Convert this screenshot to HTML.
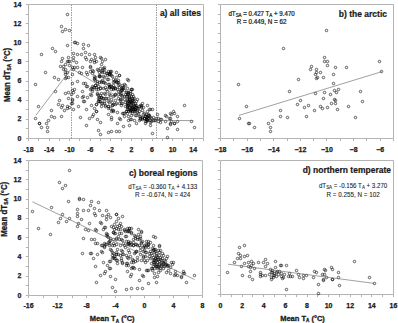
<!DOCTYPE html>
<html><head><meta charset="utf-8"><style>html,body{margin:0;padding:0;background:#fff;width:398px;height:323px;overflow:hidden}svg{display:block}</style></head>
<body><svg width="398" height="323" viewBox="0 0 398 323">
<style>
text{font-family:"Liberation Sans",sans-serif;fill:#1a1a1a}
.tl{font-size:7px;font-weight:bold;text-anchor:middle;stroke:#1a1a1a;stroke-width:0.25px}
.yl{font-size:7px;font-weight:bold;text-anchor:end;stroke:#1a1a1a;stroke-width:0.25px}
.ti{font-size:8.5px;font-weight:bold;text-anchor:end;stroke:#1a1a1a;stroke-width:0.2px}
.eq{font-size:6.3px;text-anchor:middle;stroke:#1a1a1a;stroke-width:0.22px}
.ax{font-size:8px;font-weight:bold}
</style>
<rect width="398" height="323" fill="#fff"/>
<path d="M28.5 4.5H203.5V138.5" fill="none" stroke="#b4b4b4" stroke-width="1"/>
<path d="M28.5 4.5V138.5H203.5" fill="none" stroke="#b4b4b4" stroke-width="1"/>
<path d="M25.90 138.50H28.5M25.90 128.50H28.5M25.90 119.50H28.5M25.90 109.50H28.5M25.90 100.50H28.5M25.90 90.50H28.5M25.90 81.50H28.5M25.90 71.50H28.5M25.90 61.50H28.5M25.90 52.50H28.5M25.90 42.50H28.5M25.90 33.50H28.5M25.90 23.50H28.5M25.90 14.50H28.5M25.90 4.50H28.5M28.50 138.5V141.10M38.50 138.5V141.10M49.50 138.5V141.10M59.50 138.5V141.10M69.50 138.5V141.10M79.50 138.5V141.10M90.50 138.5V141.10M100.50 138.5V141.10M110.50 138.5V141.10M121.50 138.5V141.10M131.50 138.5V141.10M141.50 138.5V141.10M152.50 138.5V141.10M162.50 138.5V141.10M172.50 138.5V141.10M182.50 138.5V141.10M193.50 138.5V141.10M203.50 138.5V141.10" fill="none" stroke="#b4b4b4" stroke-width="1"/>
<text x="28.50" y="151.8" class="tl">-18</text>
<text x="49.09" y="151.8" class="tl">-14</text>
<text x="69.68" y="151.8" class="tl">-10</text>
<text x="90.26" y="151.8" class="tl">-6</text>
<text x="110.85" y="151.8" class="tl">-2</text>
<text x="131.44" y="151.8" class="tl">2</text>
<text x="152.03" y="151.8" class="tl">6</text>
<text x="172.62" y="151.8" class="tl">10</text>
<text x="193.21" y="151.8" class="tl">14</text>
<text x="21.3" y="140.60" class="yl">0</text>
<text x="21.3" y="121.46" class="yl">2</text>
<text x="21.3" y="102.31" class="yl">4</text>
<text x="21.3" y="83.17" class="yl">6</text>
<text x="21.3" y="64.03" class="yl">8</text>
<text x="21.3" y="44.89" class="yl">10</text>
<text x="21.3" y="25.74" class="yl">12</text>
<text x="21.3" y="6.60" class="yl">14</text>
<path d="M220.5 4.5H393.5V138.5" fill="none" stroke="#b4b4b4" stroke-width="1"/>
<path d="M220.5 4.5V138.5H393.5" fill="none" stroke="#b4b4b4" stroke-width="1"/>
<path d="M217.90 138.50H220.5M217.90 128.50H220.5M217.90 119.50H220.5M217.90 109.50H220.5M217.90 100.50H220.5M217.90 90.50H220.5M217.90 81.50H220.5M217.90 71.50H220.5M217.90 61.50H220.5M217.90 52.50H220.5M217.90 42.50H220.5M217.90 33.50H220.5M217.90 23.50H220.5M217.90 14.50H220.5M217.90 4.50H220.5M220.50 138.5V141.10M233.50 138.5V141.10M247.50 138.5V141.10M260.50 138.5V141.10M273.50 138.5V141.10M287.50 138.5V141.10M300.50 138.5V141.10M313.50 138.5V141.10M326.50 138.5V141.10M340.50 138.5V141.10M353.50 138.5V141.10M366.50 138.5V141.10M380.50 138.5V141.10M393.50 138.5V141.10" fill="none" stroke="#b4b4b4" stroke-width="1"/>
<text x="220.50" y="151.8" class="tl">−18</text>
<text x="247.12" y="151.8" class="tl">−16</text>
<text x="273.73" y="151.8" class="tl">−14</text>
<text x="300.35" y="151.8" class="tl">−12</text>
<text x="326.96" y="151.8" class="tl">−10</text>
<text x="353.58" y="151.8" class="tl">−8</text>
<text x="380.19" y="151.8" class="tl">−6</text>
<path d="M28.5 160.5H202.5V295.5" fill="none" stroke="#b4b4b4" stroke-width="1"/>
<path d="M28.5 160.5V295.5H202.5" fill="none" stroke="#b4b4b4" stroke-width="1"/>
<path d="M25.90 295.50H28.5M25.90 285.50H28.5M25.90 276.50H28.5M25.90 266.50H28.5M25.90 256.50H28.5M25.90 247.50H28.5M25.90 237.50H28.5M25.90 228.50H28.5M25.90 218.50H28.5M25.90 208.50H28.5M25.90 199.50H28.5M25.90 189.50H28.5M25.90 179.50H28.5M25.90 170.50H28.5M25.90 160.50H28.5M28.50 295.5V298.10M43.50 295.5V298.10M57.50 295.5V298.10M72.50 295.5V298.10M86.50 295.5V298.10M101.50 295.5V298.10M115.50 295.5V298.10M130.50 295.5V298.10M144.50 295.5V298.10M159.50 295.5V298.10M173.50 295.5V298.10M188.50 295.5V298.10M202.50 295.5V298.10" fill="none" stroke="#b4b4b4" stroke-width="1"/>
<text x="28.50" y="308" class="tl">-16</text>
<text x="57.50" y="308" class="tl">-12</text>
<text x="86.50" y="308" class="tl">-8</text>
<text x="115.50" y="308" class="tl">-4</text>
<text x="144.50" y="308" class="tl">0</text>
<text x="173.50" y="308" class="tl">4</text>
<text x="202.50" y="308" class="tl">8</text>
<text x="21.3" y="297.60" class="yl">0</text>
<text x="21.3" y="278.31" class="yl">2</text>
<text x="21.3" y="259.03" class="yl">4</text>
<text x="21.3" y="239.74" class="yl">6</text>
<text x="21.3" y="220.46" class="yl">8</text>
<text x="21.3" y="201.17" class="yl">10</text>
<text x="21.3" y="181.89" class="yl">12</text>
<text x="21.3" y="162.60" class="yl">14</text>
<path d="M220.5 160.5H393.5V294.5" fill="none" stroke="#b4b4b4" stroke-width="1"/>
<path d="M220.5 160.5V294.5H393.5" fill="none" stroke="#b4b4b4" stroke-width="1"/>
<path d="M217.90 294.50H220.5M217.90 284.50H220.5M217.90 275.50H220.5M217.90 265.50H220.5M217.90 256.50H220.5M217.90 246.50H220.5M217.90 237.50H220.5M217.90 227.50H220.5M217.90 217.50H220.5M217.90 208.50H220.5M217.90 198.50H220.5M217.90 189.50H220.5M217.90 179.50H220.5M217.90 170.50H220.5M217.90 160.50H220.5M220.50 294.5V297.10M231.50 294.5V297.10M242.50 294.5V297.10M252.50 294.5V297.10M263.50 294.5V297.10M274.50 294.5V297.10M285.50 294.5V297.10M296.50 294.5V297.10M307.50 294.5V297.10M317.50 294.5V297.10M328.50 294.5V297.10M339.50 294.5V297.10M350.50 294.5V297.10M361.50 294.5V297.10M371.50 294.5V297.10M382.50 294.5V297.10M393.50 294.5V297.10" fill="none" stroke="#b4b4b4" stroke-width="1"/>
<text x="220.50" y="307.5" class="tl">0</text>
<text x="242.12" y="307.5" class="tl">2</text>
<text x="263.75" y="307.5" class="tl">4</text>
<text x="285.38" y="307.5" class="tl">6</text>
<text x="307.00" y="307.5" class="tl">8</text>
<text x="328.62" y="307.5" class="tl">10</text>
<text x="350.25" y="307.5" class="tl">12</text>
<text x="371.88" y="307.5" class="tl">14</text>
<text x="393.50" y="307.5" class="tl">16</text>
<path d="M71.5 4.5V138.5M156.5 4.5V138.5" stroke="#9a9a9a" stroke-width="1" stroke-dasharray="1.5 1"/>
<path d="M37.25 106.50a1.25 1.25 0 1 0 2.5 0a1.25 1.25 0 1 0 -2.5 0M34.25 118.50a1.25 1.25 0 1 0 2.5 0a1.25 1.25 0 1 0 -2.5 0M38.25 123.50a1.25 1.25 0 1 0 2.5 0a1.25 1.25 0 1 0 -2.5 0M38.25 123.50a1.25 1.25 0 1 0 2.5 0a1.25 1.25 0 1 0 -2.5 0M40.25 127.50a1.25 1.25 0 1 0 2.5 0a1.25 1.25 0 1 0 -2.5 0M45.25 123.50a1.25 1.25 0 1 0 2.5 0a1.25 1.25 0 1 0 -2.5 0M47.25 120.50a1.25 1.25 0 1 0 2.5 0a1.25 1.25 0 1 0 -2.5 0M46.25 127.50a1.25 1.25 0 1 0 2.5 0a1.25 1.25 0 1 0 -2.5 0M46.25 131.50a1.25 1.25 0 1 0 2.5 0a1.25 1.25 0 1 0 -2.5 0M34.25 84.50a1.25 1.25 0 1 0 2.5 0a1.25 1.25 0 1 0 -2.5 0M50.25 110.50a1.25 1.25 0 1 0 2.5 0a1.25 1.25 0 1 0 -2.5 0M50.25 116.50a1.25 1.25 0 1 0 2.5 0a1.25 1.25 0 1 0 -2.5 0M53.25 117.50a1.25 1.25 0 1 0 2.5 0a1.25 1.25 0 1 0 -2.5 0M60.25 116.50a1.25 1.25 0 1 0 2.5 0a1.25 1.25 0 1 0 -2.5 0M63.25 110.50a1.25 1.25 0 1 0 2.5 0a1.25 1.25 0 1 0 -2.5 0M60.25 107.50a1.25 1.25 0 1 0 2.5 0a1.25 1.25 0 1 0 -2.5 0M61.25 105.50a1.25 1.25 0 1 0 2.5 0a1.25 1.25 0 1 0 -2.5 0M66.25 106.50a1.25 1.25 0 1 0 2.5 0a1.25 1.25 0 1 0 -2.5 0M66.25 108.50a1.25 1.25 0 1 0 2.5 0a1.25 1.25 0 1 0 -2.5 0M68.25 107.50a1.25 1.25 0 1 0 2.5 0a1.25 1.25 0 1 0 -2.5 0M57.25 104.50a1.25 1.25 0 1 0 2.5 0a1.25 1.25 0 1 0 -2.5 0M54.25 91.50a1.25 1.25 0 1 0 2.5 0a1.25 1.25 0 1 0 -2.5 0M64.25 93.50a1.25 1.25 0 1 0 2.5 0a1.25 1.25 0 1 0 -2.5 0M67.25 92.50a1.25 1.25 0 1 0 2.5 0a1.25 1.25 0 1 0 -2.5 0M70.25 94.50a1.25 1.25 0 1 0 2.5 0a1.25 1.25 0 1 0 -2.5 0M71.25 90.50a1.25 1.25 0 1 0 2.5 0a1.25 1.25 0 1 0 -2.5 0M72.25 92.50a1.25 1.25 0 1 0 2.5 0a1.25 1.25 0 1 0 -2.5 0M73.25 89.50a1.25 1.25 0 1 0 2.5 0a1.25 1.25 0 1 0 -2.5 0M67.25 98.50a1.25 1.25 0 1 0 2.5 0a1.25 1.25 0 1 0 -2.5 0M58.25 100.50a1.25 1.25 0 1 0 2.5 0a1.25 1.25 0 1 0 -2.5 0M70.25 103.50a1.25 1.25 0 1 0 2.5 0a1.25 1.25 0 1 0 -2.5 0M71.25 99.50a1.25 1.25 0 1 0 2.5 0a1.25 1.25 0 1 0 -2.5 0M71.25 100.50a1.25 1.25 0 1 0 2.5 0a1.25 1.25 0 1 0 -2.5 0M71.25 103.50a1.25 1.25 0 1 0 2.5 0a1.25 1.25 0 1 0 -2.5 0M72.25 109.50a1.25 1.25 0 1 0 2.5 0a1.25 1.25 0 1 0 -2.5 0M67.25 57.50a1.25 1.25 0 1 0 2.5 0a1.25 1.25 0 1 0 -2.5 0M67.25 61.50a1.25 1.25 0 1 0 2.5 0a1.25 1.25 0 1 0 -2.5 0M68.25 61.50a1.25 1.25 0 1 0 2.5 0a1.25 1.25 0 1 0 -2.5 0M68.25 65.50a1.25 1.25 0 1 0 2.5 0a1.25 1.25 0 1 0 -2.5 0M71.25 67.50a1.25 1.25 0 1 0 2.5 0a1.25 1.25 0 1 0 -2.5 0M62.25 66.50a1.25 1.25 0 1 0 2.5 0a1.25 1.25 0 1 0 -2.5 0M62.25 69.50a1.25 1.25 0 1 0 2.5 0a1.25 1.25 0 1 0 -2.5 0M64.25 69.50a1.25 1.25 0 1 0 2.5 0a1.25 1.25 0 1 0 -2.5 0M64.25 72.50a1.25 1.25 0 1 0 2.5 0a1.25 1.25 0 1 0 -2.5 0M64.25 74.50a1.25 1.25 0 1 0 2.5 0a1.25 1.25 0 1 0 -2.5 0M66.25 72.50a1.25 1.25 0 1 0 2.5 0a1.25 1.25 0 1 0 -2.5 0M65.25 77.50a1.25 1.25 0 1 0 2.5 0a1.25 1.25 0 1 0 -2.5 0M64.25 78.50a1.25 1.25 0 1 0 2.5 0a1.25 1.25 0 1 0 -2.5 0M67.25 77.50a1.25 1.25 0 1 0 2.5 0a1.25 1.25 0 1 0 -2.5 0M71.25 74.50a1.25 1.25 0 1 0 2.5 0a1.25 1.25 0 1 0 -2.5 0M71.25 83.50a1.25 1.25 0 1 0 2.5 0a1.25 1.25 0 1 0 -2.5 0M57.25 79.50a1.25 1.25 0 1 0 2.5 0a1.25 1.25 0 1 0 -2.5 0M51.25 48.50a1.25 1.25 0 1 0 2.5 0a1.25 1.25 0 1 0 -2.5 0M68.25 30.50a1.25 1.25 0 1 0 2.5 0a1.25 1.25 0 1 0 -2.5 0M76.25 67.50a1.25 1.25 0 1 0 2.5 0a1.25 1.25 0 1 0 -2.5 0M89.25 61.50a1.25 1.25 0 1 0 2.5 0a1.25 1.25 0 1 0 -2.5 0M89.25 71.50a1.25 1.25 0 1 0 2.5 0a1.25 1.25 0 1 0 -2.5 0M81.25 91.50a1.25 1.25 0 1 0 2.5 0a1.25 1.25 0 1 0 -2.5 0M82.25 101.50a1.25 1.25 0 1 0 2.5 0a1.25 1.25 0 1 0 -2.5 0M77.25 106.50a1.25 1.25 0 1 0 2.5 0a1.25 1.25 0 1 0 -2.5 0M79.25 117.50a1.25 1.25 0 1 0 2.5 0a1.25 1.25 0 1 0 -2.5 0M66.25 14.50a1.25 1.25 0 1 0 2.5 0a1.25 1.25 0 1 0 -2.5 0M60.25 26.50a1.25 1.25 0 1 0 2.5 0a1.25 1.25 0 1 0 -2.5 0M64.25 29.50a1.25 1.25 0 1 0 2.5 0a1.25 1.25 0 1 0 -2.5 0M61.25 31.50a1.25 1.25 0 1 0 2.5 0a1.25 1.25 0 1 0 -2.5 0M66.25 45.50a1.25 1.25 0 1 0 2.5 0a1.25 1.25 0 1 0 -2.5 0M54.25 51.50a1.25 1.25 0 1 0 2.5 0a1.25 1.25 0 1 0 -2.5 0M40.25 54.50a1.25 1.25 0 1 0 2.5 0a1.25 1.25 0 1 0 -2.5 0M61.25 58.50a1.25 1.25 0 1 0 2.5 0a1.25 1.25 0 1 0 -2.5 0M60.25 61.50a1.25 1.25 0 1 0 2.5 0a1.25 1.25 0 1 0 -2.5 0M66.25 61.50a1.25 1.25 0 1 0 2.5 0a1.25 1.25 0 1 0 -2.5 0M64.25 64.50a1.25 1.25 0 1 0 2.5 0a1.25 1.25 0 1 0 -2.5 0M59.25 66.50a1.25 1.25 0 1 0 2.5 0a1.25 1.25 0 1 0 -2.5 0M44.25 72.50a1.25 1.25 0 1 0 2.5 0a1.25 1.25 0 1 0 -2.5 0M53.25 77.50a1.25 1.25 0 1 0 2.5 0a1.25 1.25 0 1 0 -2.5 0M73.25 42.50a1.25 1.25 0 1 0 2.5 0a1.25 1.25 0 1 0 -2.5 0M74.25 42.50a1.25 1.25 0 1 0 2.5 0a1.25 1.25 0 1 0 -2.5 0M76.25 43.50a1.25 1.25 0 1 0 2.5 0a1.25 1.25 0 1 0 -2.5 0M82.25 44.50a1.25 1.25 0 1 0 2.5 0a1.25 1.25 0 1 0 -2.5 0M87.25 45.50a1.25 1.25 0 1 0 2.5 0a1.25 1.25 0 1 0 -2.5 0M82.25 48.50a1.25 1.25 0 1 0 2.5 0a1.25 1.25 0 1 0 -2.5 0M84.25 52.50a1.25 1.25 0 1 0 2.5 0a1.25 1.25 0 1 0 -2.5 0M72.25 53.50a1.25 1.25 0 1 0 2.5 0a1.25 1.25 0 1 0 -2.5 0M76.25 54.50a1.25 1.25 0 1 0 2.5 0a1.25 1.25 0 1 0 -2.5 0M80.25 54.50a1.25 1.25 0 1 0 2.5 0a1.25 1.25 0 1 0 -2.5 0M88.25 54.50a1.25 1.25 0 1 0 2.5 0a1.25 1.25 0 1 0 -2.5 0M93.25 54.50a1.25 1.25 0 1 0 2.5 0a1.25 1.25 0 1 0 -2.5 0M72.25 57.50a1.25 1.25 0 1 0 2.5 0a1.25 1.25 0 1 0 -2.5 0M72.25 60.50a1.25 1.25 0 1 0 2.5 0a1.25 1.25 0 1 0 -2.5 0M84.25 57.50a1.25 1.25 0 1 0 2.5 0a1.25 1.25 0 1 0 -2.5 0M85.25 59.50a1.25 1.25 0 1 0 2.5 0a1.25 1.25 0 1 0 -2.5 0M90.25 59.50a1.25 1.25 0 1 0 2.5 0a1.25 1.25 0 1 0 -2.5 0M94.25 57.50a1.25 1.25 0 1 0 2.5 0a1.25 1.25 0 1 0 -2.5 0M93.25 60.50a1.25 1.25 0 1 0 2.5 0a1.25 1.25 0 1 0 -2.5 0M95.25 61.50a1.25 1.25 0 1 0 2.5 0a1.25 1.25 0 1 0 -2.5 0M93.25 62.50a1.25 1.25 0 1 0 2.5 0a1.25 1.25 0 1 0 -2.5 0M99.25 57.50a1.25 1.25 0 1 0 2.5 0a1.25 1.25 0 1 0 -2.5 0M100.25 58.50a1.25 1.25 0 1 0 2.5 0a1.25 1.25 0 1 0 -2.5 0M75.25 62.50a1.25 1.25 0 1 0 2.5 0a1.25 1.25 0 1 0 -2.5 0M100.25 64.50a1.25 1.25 0 1 0 2.5 0a1.25 1.25 0 1 0 -2.5 0M89.25 66.50a1.25 1.25 0 1 0 2.5 0a1.25 1.25 0 1 0 -2.5 0M89.25 67.50a1.25 1.25 0 1 0 2.5 0a1.25 1.25 0 1 0 -2.5 0M81.25 67.50a1.25 1.25 0 1 0 2.5 0a1.25 1.25 0 1 0 -2.5 0M73.25 67.50a1.25 1.25 0 1 0 2.5 0a1.25 1.25 0 1 0 -2.5 0M99.25 68.50a1.25 1.25 0 1 0 2.5 0a1.25 1.25 0 1 0 -2.5 0M72.25 69.50a1.25 1.25 0 1 0 2.5 0a1.25 1.25 0 1 0 -2.5 0M78.25 72.50a1.25 1.25 0 1 0 2.5 0a1.25 1.25 0 1 0 -2.5 0M80.25 73.50a1.25 1.25 0 1 0 2.5 0a1.25 1.25 0 1 0 -2.5 0M85.25 72.50a1.25 1.25 0 1 0 2.5 0a1.25 1.25 0 1 0 -2.5 0M86.25 74.50a1.25 1.25 0 1 0 2.5 0a1.25 1.25 0 1 0 -2.5 0M91.25 70.50a1.25 1.25 0 1 0 2.5 0a1.25 1.25 0 1 0 -2.5 0M92.25 71.50a1.25 1.25 0 1 0 2.5 0a1.25 1.25 0 1 0 -2.5 0M91.25 73.50a1.25 1.25 0 1 0 2.5 0a1.25 1.25 0 1 0 -2.5 0M96.25 69.50a1.25 1.25 0 1 0 2.5 0a1.25 1.25 0 1 0 -2.5 0M97.25 70.50a1.25 1.25 0 1 0 2.5 0a1.25 1.25 0 1 0 -2.5 0M100.25 71.50a1.25 1.25 0 1 0 2.5 0a1.25 1.25 0 1 0 -2.5 0M99.25 76.50a1.25 1.25 0 1 0 2.5 0a1.25 1.25 0 1 0 -2.5 0M93.25 76.50a1.25 1.25 0 1 0 2.5 0a1.25 1.25 0 1 0 -2.5 0M93.25 78.50a1.25 1.25 0 1 0 2.5 0a1.25 1.25 0 1 0 -2.5 0M94.25 80.50a1.25 1.25 0 1 0 2.5 0a1.25 1.25 0 1 0 -2.5 0M96.25 81.50a1.25 1.25 0 1 0 2.5 0a1.25 1.25 0 1 0 -2.5 0M76.25 81.50a1.25 1.25 0 1 0 2.5 0a1.25 1.25 0 1 0 -2.5 0M82.25 83.50a1.25 1.25 0 1 0 2.5 0a1.25 1.25 0 1 0 -2.5 0M84.25 83.50a1.25 1.25 0 1 0 2.5 0a1.25 1.25 0 1 0 -2.5 0M85.25 86.50a1.25 1.25 0 1 0 2.5 0a1.25 1.25 0 1 0 -2.5 0M86.25 86.50a1.25 1.25 0 1 0 2.5 0a1.25 1.25 0 1 0 -2.5 0M89.25 89.50a1.25 1.25 0 1 0 2.5 0a1.25 1.25 0 1 0 -2.5 0M91.25 89.50a1.25 1.25 0 1 0 2.5 0a1.25 1.25 0 1 0 -2.5 0M91.25 86.50a1.25 1.25 0 1 0 2.5 0a1.25 1.25 0 1 0 -2.5 0M92.25 87.50a1.25 1.25 0 1 0 2.5 0a1.25 1.25 0 1 0 -2.5 0M94.25 85.50a1.25 1.25 0 1 0 2.5 0a1.25 1.25 0 1 0 -2.5 0M95.25 87.50a1.25 1.25 0 1 0 2.5 0a1.25 1.25 0 1 0 -2.5 0M95.25 89.50a1.25 1.25 0 1 0 2.5 0a1.25 1.25 0 1 0 -2.5 0M97.25 86.50a1.25 1.25 0 1 0 2.5 0a1.25 1.25 0 1 0 -2.5 0M99.25 88.50a1.25 1.25 0 1 0 2.5 0a1.25 1.25 0 1 0 -2.5 0M96.25 93.50a1.25 1.25 0 1 0 2.5 0a1.25 1.25 0 1 0 -2.5 0M89.25 94.50a1.25 1.25 0 1 0 2.5 0a1.25 1.25 0 1 0 -2.5 0M76.25 96.50a1.25 1.25 0 1 0 2.5 0a1.25 1.25 0 1 0 -2.5 0M81.25 97.50a1.25 1.25 0 1 0 2.5 0a1.25 1.25 0 1 0 -2.5 0M82.25 96.50a1.25 1.25 0 1 0 2.5 0a1.25 1.25 0 1 0 -2.5 0M86.25 97.50a1.25 1.25 0 1 0 2.5 0a1.25 1.25 0 1 0 -2.5 0M83.25 101.50a1.25 1.25 0 1 0 2.5 0a1.25 1.25 0 1 0 -2.5 0M97.25 95.50a1.25 1.25 0 1 0 2.5 0a1.25 1.25 0 1 0 -2.5 0M98.25 97.50a1.25 1.25 0 1 0 2.5 0a1.25 1.25 0 1 0 -2.5 0M97.25 98.50a1.25 1.25 0 1 0 2.5 0a1.25 1.25 0 1 0 -2.5 0M98.25 99.50a1.25 1.25 0 1 0 2.5 0a1.25 1.25 0 1 0 -2.5 0M99.25 95.50a1.25 1.25 0 1 0 2.5 0a1.25 1.25 0 1 0 -2.5 0M100.25 97.50a1.25 1.25 0 1 0 2.5 0a1.25 1.25 0 1 0 -2.5 0M97.25 101.50a1.25 1.25 0 1 0 2.5 0a1.25 1.25 0 1 0 -2.5 0M96.25 83.50a1.25 1.25 0 1 0 2.5 0a1.25 1.25 0 1 0 -2.5 0M90.25 105.50a1.25 1.25 0 1 0 2.5 0a1.25 1.25 0 1 0 -2.5 0M95.25 104.50a1.25 1.25 0 1 0 2.5 0a1.25 1.25 0 1 0 -2.5 0M93.25 108.50a1.25 1.25 0 1 0 2.5 0a1.25 1.25 0 1 0 -2.5 0M95.25 111.50a1.25 1.25 0 1 0 2.5 0a1.25 1.25 0 1 0 -2.5 0M85.25 109.50a1.25 1.25 0 1 0 2.5 0a1.25 1.25 0 1 0 -2.5 0M92.25 114.50a1.25 1.25 0 1 0 2.5 0a1.25 1.25 0 1 0 -2.5 0M91.25 116.50a1.25 1.25 0 1 0 2.5 0a1.25 1.25 0 1 0 -2.5 0M88.25 118.50a1.25 1.25 0 1 0 2.5 0a1.25 1.25 0 1 0 -2.5 0M96.25 119.50a1.25 1.25 0 1 0 2.5 0a1.25 1.25 0 1 0 -2.5 0M85.25 125.50a1.25 1.25 0 1 0 2.5 0a1.25 1.25 0 1 0 -2.5 0M99.25 122.50a1.25 1.25 0 1 0 2.5 0a1.25 1.25 0 1 0 -2.5 0M97.25 130.50a1.25 1.25 0 1 0 2.5 0a1.25 1.25 0 1 0 -2.5 0M99.25 134.50a1.25 1.25 0 1 0 2.5 0a1.25 1.25 0 1 0 -2.5 0M99.25 101.50a1.25 1.25 0 1 0 2.5 0a1.25 1.25 0 1 0 -2.5 0M100.25 103.50a1.25 1.25 0 1 0 2.5 0a1.25 1.25 0 1 0 -2.5 0M100.25 106.50a1.25 1.25 0 1 0 2.5 0a1.25 1.25 0 1 0 -2.5 0M104.25 59.50a1.25 1.25 0 1 0 2.5 0a1.25 1.25 0 1 0 -2.5 0M101.25 61.50a1.25 1.25 0 1 0 2.5 0a1.25 1.25 0 1 0 -2.5 0M103.25 67.50a1.25 1.25 0 1 0 2.5 0a1.25 1.25 0 1 0 -2.5 0M102.25 68.50a1.25 1.25 0 1 0 2.5 0a1.25 1.25 0 1 0 -2.5 0M103.25 69.50a1.25 1.25 0 1 0 2.5 0a1.25 1.25 0 1 0 -2.5 0M101.25 70.50a1.25 1.25 0 1 0 2.5 0a1.25 1.25 0 1 0 -2.5 0M101.25 72.50a1.25 1.25 0 1 0 2.5 0a1.25 1.25 0 1 0 -2.5 0M103.25 72.50a1.25 1.25 0 1 0 2.5 0a1.25 1.25 0 1 0 -2.5 0M98.25 72.50a1.25 1.25 0 1 0 2.5 0a1.25 1.25 0 1 0 -2.5 0M102.25 76.50a1.25 1.25 0 1 0 2.5 0a1.25 1.25 0 1 0 -2.5 0M103.25 77.50a1.25 1.25 0 1 0 2.5 0a1.25 1.25 0 1 0 -2.5 0M105.25 73.50a1.25 1.25 0 1 0 2.5 0a1.25 1.25 0 1 0 -2.5 0M106.25 75.50a1.25 1.25 0 1 0 2.5 0a1.25 1.25 0 1 0 -2.5 0M106.25 73.50a1.25 1.25 0 1 0 2.5 0a1.25 1.25 0 1 0 -2.5 0M107.25 71.50a1.25 1.25 0 1 0 2.5 0a1.25 1.25 0 1 0 -2.5 0M109.25 71.50a1.25 1.25 0 1 0 2.5 0a1.25 1.25 0 1 0 -2.5 0M110.25 71.50a1.25 1.25 0 1 0 2.5 0a1.25 1.25 0 1 0 -2.5 0M108.25 73.50a1.25 1.25 0 1 0 2.5 0a1.25 1.25 0 1 0 -2.5 0M109.25 74.50a1.25 1.25 0 1 0 2.5 0a1.25 1.25 0 1 0 -2.5 0M110.25 75.50a1.25 1.25 0 1 0 2.5 0a1.25 1.25 0 1 0 -2.5 0M111.25 76.50a1.25 1.25 0 1 0 2.5 0a1.25 1.25 0 1 0 -2.5 0M115.25 72.50a1.25 1.25 0 1 0 2.5 0a1.25 1.25 0 1 0 -2.5 0M118.25 75.50a1.25 1.25 0 1 0 2.5 0a1.25 1.25 0 1 0 -2.5 0M115.25 77.50a1.25 1.25 0 1 0 2.5 0a1.25 1.25 0 1 0 -2.5 0M112.25 79.50a1.25 1.25 0 1 0 2.5 0a1.25 1.25 0 1 0 -2.5 0M114.25 80.50a1.25 1.25 0 1 0 2.5 0a1.25 1.25 0 1 0 -2.5 0M115.25 81.50a1.25 1.25 0 1 0 2.5 0a1.25 1.25 0 1 0 -2.5 0M117.25 80.50a1.25 1.25 0 1 0 2.5 0a1.25 1.25 0 1 0 -2.5 0M117.25 82.50a1.25 1.25 0 1 0 2.5 0a1.25 1.25 0 1 0 -2.5 0M106.25 79.50a1.25 1.25 0 1 0 2.5 0a1.25 1.25 0 1 0 -2.5 0M107.25 79.50a1.25 1.25 0 1 0 2.5 0a1.25 1.25 0 1 0 -2.5 0M101.25 80.50a1.25 1.25 0 1 0 2.5 0a1.25 1.25 0 1 0 -2.5 0M102.25 82.50a1.25 1.25 0 1 0 2.5 0a1.25 1.25 0 1 0 -2.5 0M103.25 82.50a1.25 1.25 0 1 0 2.5 0a1.25 1.25 0 1 0 -2.5 0M104.25 83.50a1.25 1.25 0 1 0 2.5 0a1.25 1.25 0 1 0 -2.5 0M100.25 82.50a1.25 1.25 0 1 0 2.5 0a1.25 1.25 0 1 0 -2.5 0M98.25 82.50a1.25 1.25 0 1 0 2.5 0a1.25 1.25 0 1 0 -2.5 0M107.25 84.50a1.25 1.25 0 1 0 2.5 0a1.25 1.25 0 1 0 -2.5 0M108.25 84.50a1.25 1.25 0 1 0 2.5 0a1.25 1.25 0 1 0 -2.5 0M112.25 82.50a1.25 1.25 0 1 0 2.5 0a1.25 1.25 0 1 0 -2.5 0M116.25 82.50a1.25 1.25 0 1 0 2.5 0a1.25 1.25 0 1 0 -2.5 0M118.25 84.50a1.25 1.25 0 1 0 2.5 0a1.25 1.25 0 1 0 -2.5 0M121.25 85.50a1.25 1.25 0 1 0 2.5 0a1.25 1.25 0 1 0 -2.5 0M98.25 75.50a1.25 1.25 0 1 0 2.5 0a1.25 1.25 0 1 0 -2.5 0M113.25 81.50a1.25 1.25 0 1 0 2.5 0a1.25 1.25 0 1 0 -2.5 0M115.25 82.50a1.25 1.25 0 1 0 2.5 0a1.25 1.25 0 1 0 -2.5 0M117.25 85.50a1.25 1.25 0 1 0 2.5 0a1.25 1.25 0 1 0 -2.5 0M123.25 84.50a1.25 1.25 0 1 0 2.5 0a1.25 1.25 0 1 0 -2.5 0M124.25 85.50a1.25 1.25 0 1 0 2.5 0a1.25 1.25 0 1 0 -2.5 0M126.25 79.50a1.25 1.25 0 1 0 2.5 0a1.25 1.25 0 1 0 -2.5 0M127.25 80.50a1.25 1.25 0 1 0 2.5 0a1.25 1.25 0 1 0 -2.5 0M126.25 88.50a1.25 1.25 0 1 0 2.5 0a1.25 1.25 0 1 0 -2.5 0M110.25 86.50a1.25 1.25 0 1 0 2.5 0a1.25 1.25 0 1 0 -2.5 0M110.25 89.50a1.25 1.25 0 1 0 2.5 0a1.25 1.25 0 1 0 -2.5 0M112.25 88.50a1.25 1.25 0 1 0 2.5 0a1.25 1.25 0 1 0 -2.5 0M114.25 88.50a1.25 1.25 0 1 0 2.5 0a1.25 1.25 0 1 0 -2.5 0M116.25 89.50a1.25 1.25 0 1 0 2.5 0a1.25 1.25 0 1 0 -2.5 0M120.25 88.50a1.25 1.25 0 1 0 2.5 0a1.25 1.25 0 1 0 -2.5 0M121.25 89.50a1.25 1.25 0 1 0 2.5 0a1.25 1.25 0 1 0 -2.5 0M123.25 90.50a1.25 1.25 0 1 0 2.5 0a1.25 1.25 0 1 0 -2.5 0M117.25 91.50a1.25 1.25 0 1 0 2.5 0a1.25 1.25 0 1 0 -2.5 0M119.25 91.50a1.25 1.25 0 1 0 2.5 0a1.25 1.25 0 1 0 -2.5 0M130.25 89.50a1.25 1.25 0 1 0 2.5 0a1.25 1.25 0 1 0 -2.5 0M97.25 89.50a1.25 1.25 0 1 0 2.5 0a1.25 1.25 0 1 0 -2.5 0M102.25 88.50a1.25 1.25 0 1 0 2.5 0a1.25 1.25 0 1 0 -2.5 0M104.25 87.50a1.25 1.25 0 1 0 2.5 0a1.25 1.25 0 1 0 -2.5 0M105.25 89.50a1.25 1.25 0 1 0 2.5 0a1.25 1.25 0 1 0 -2.5 0M106.25 91.50a1.25 1.25 0 1 0 2.5 0a1.25 1.25 0 1 0 -2.5 0M108.25 87.50a1.25 1.25 0 1 0 2.5 0a1.25 1.25 0 1 0 -2.5 0M109.25 86.50a1.25 1.25 0 1 0 2.5 0a1.25 1.25 0 1 0 -2.5 0M111.25 87.50a1.25 1.25 0 1 0 2.5 0a1.25 1.25 0 1 0 -2.5 0M112.25 85.50a1.25 1.25 0 1 0 2.5 0a1.25 1.25 0 1 0 -2.5 0M113.25 87.50a1.25 1.25 0 1 0 2.5 0a1.25 1.25 0 1 0 -2.5 0M100.25 93.50a1.25 1.25 0 1 0 2.5 0a1.25 1.25 0 1 0 -2.5 0M103.25 93.50a1.25 1.25 0 1 0 2.5 0a1.25 1.25 0 1 0 -2.5 0M104.25 94.50a1.25 1.25 0 1 0 2.5 0a1.25 1.25 0 1 0 -2.5 0M101.25 98.50a1.25 1.25 0 1 0 2.5 0a1.25 1.25 0 1 0 -2.5 0M102.25 98.50a1.25 1.25 0 1 0 2.5 0a1.25 1.25 0 1 0 -2.5 0M104.25 98.50a1.25 1.25 0 1 0 2.5 0a1.25 1.25 0 1 0 -2.5 0M105.25 98.50a1.25 1.25 0 1 0 2.5 0a1.25 1.25 0 1 0 -2.5 0M107.25 98.50a1.25 1.25 0 1 0 2.5 0a1.25 1.25 0 1 0 -2.5 0M107.25 101.50a1.25 1.25 0 1 0 2.5 0a1.25 1.25 0 1 0 -2.5 0M108.25 102.50a1.25 1.25 0 1 0 2.5 0a1.25 1.25 0 1 0 -2.5 0M103.25 101.50a1.25 1.25 0 1 0 2.5 0a1.25 1.25 0 1 0 -2.5 0M103.25 103.50a1.25 1.25 0 1 0 2.5 0a1.25 1.25 0 1 0 -2.5 0M101.25 103.50a1.25 1.25 0 1 0 2.5 0a1.25 1.25 0 1 0 -2.5 0M110.25 99.50a1.25 1.25 0 1 0 2.5 0a1.25 1.25 0 1 0 -2.5 0M111.25 102.50a1.25 1.25 0 1 0 2.5 0a1.25 1.25 0 1 0 -2.5 0M112.25 104.50a1.25 1.25 0 1 0 2.5 0a1.25 1.25 0 1 0 -2.5 0M111.25 105.50a1.25 1.25 0 1 0 2.5 0a1.25 1.25 0 1 0 -2.5 0M113.25 95.50a1.25 1.25 0 1 0 2.5 0a1.25 1.25 0 1 0 -2.5 0M114.25 94.50a1.25 1.25 0 1 0 2.5 0a1.25 1.25 0 1 0 -2.5 0M112.25 96.50a1.25 1.25 0 1 0 2.5 0a1.25 1.25 0 1 0 -2.5 0M114.25 100.50a1.25 1.25 0 1 0 2.5 0a1.25 1.25 0 1 0 -2.5 0M115.25 103.50a1.25 1.25 0 1 0 2.5 0a1.25 1.25 0 1 0 -2.5 0M114.25 104.50a1.25 1.25 0 1 0 2.5 0a1.25 1.25 0 1 0 -2.5 0M108.25 94.50a1.25 1.25 0 1 0 2.5 0a1.25 1.25 0 1 0 -2.5 0M109.25 95.50a1.25 1.25 0 1 0 2.5 0a1.25 1.25 0 1 0 -2.5 0M104.25 106.50a1.25 1.25 0 1 0 2.5 0a1.25 1.25 0 1 0 -2.5 0M107.25 106.50a1.25 1.25 0 1 0 2.5 0a1.25 1.25 0 1 0 -2.5 0M118.25 87.50a1.25 1.25 0 1 0 2.5 0a1.25 1.25 0 1 0 -2.5 0M121.25 87.50a1.25 1.25 0 1 0 2.5 0a1.25 1.25 0 1 0 -2.5 0M122.25 87.50a1.25 1.25 0 1 0 2.5 0a1.25 1.25 0 1 0 -2.5 0M120.25 90.50a1.25 1.25 0 1 0 2.5 0a1.25 1.25 0 1 0 -2.5 0M125.25 92.50a1.25 1.25 0 1 0 2.5 0a1.25 1.25 0 1 0 -2.5 0M127.25 93.50a1.25 1.25 0 1 0 2.5 0a1.25 1.25 0 1 0 -2.5 0M117.25 94.50a1.25 1.25 0 1 0 2.5 0a1.25 1.25 0 1 0 -2.5 0M119.25 94.50a1.25 1.25 0 1 0 2.5 0a1.25 1.25 0 1 0 -2.5 0M121.25 96.50a1.25 1.25 0 1 0 2.5 0a1.25 1.25 0 1 0 -2.5 0M117.25 98.50a1.25 1.25 0 1 0 2.5 0a1.25 1.25 0 1 0 -2.5 0M119.25 99.50a1.25 1.25 0 1 0 2.5 0a1.25 1.25 0 1 0 -2.5 0M120.25 99.50a1.25 1.25 0 1 0 2.5 0a1.25 1.25 0 1 0 -2.5 0M118.25 103.50a1.25 1.25 0 1 0 2.5 0a1.25 1.25 0 1 0 -2.5 0M120.25 103.50a1.25 1.25 0 1 0 2.5 0a1.25 1.25 0 1 0 -2.5 0M121.25 103.50a1.25 1.25 0 1 0 2.5 0a1.25 1.25 0 1 0 -2.5 0M120.25 105.50a1.25 1.25 0 1 0 2.5 0a1.25 1.25 0 1 0 -2.5 0M139.25 105.50a1.25 1.25 0 1 0 2.5 0a1.25 1.25 0 1 0 -2.5 0M140.25 105.50a1.25 1.25 0 1 0 2.5 0a1.25 1.25 0 1 0 -2.5 0M140.25 107.50a1.25 1.25 0 1 0 2.5 0a1.25 1.25 0 1 0 -2.5 0M138.25 111.50a1.25 1.25 0 1 0 2.5 0a1.25 1.25 0 1 0 -2.5 0M107.25 108.50a1.25 1.25 0 1 0 2.5 0a1.25 1.25 0 1 0 -2.5 0M109.25 108.50a1.25 1.25 0 1 0 2.5 0a1.25 1.25 0 1 0 -2.5 0M111.25 105.50a1.25 1.25 0 1 0 2.5 0a1.25 1.25 0 1 0 -2.5 0M111.25 110.50a1.25 1.25 0 1 0 2.5 0a1.25 1.25 0 1 0 -2.5 0M112.25 111.50a1.25 1.25 0 1 0 2.5 0a1.25 1.25 0 1 0 -2.5 0M116.25 112.50a1.25 1.25 0 1 0 2.5 0a1.25 1.25 0 1 0 -2.5 0M107.25 114.50a1.25 1.25 0 1 0 2.5 0a1.25 1.25 0 1 0 -2.5 0M110.25 117.50a1.25 1.25 0 1 0 2.5 0a1.25 1.25 0 1 0 -2.5 0M110.25 119.50a1.25 1.25 0 1 0 2.5 0a1.25 1.25 0 1 0 -2.5 0M116.25 123.50a1.25 1.25 0 1 0 2.5 0a1.25 1.25 0 1 0 -2.5 0M107.25 132.50a1.25 1.25 0 1 0 2.5 0a1.25 1.25 0 1 0 -2.5 0M110.25 131.50a1.25 1.25 0 1 0 2.5 0a1.25 1.25 0 1 0 -2.5 0M115.25 131.50a1.25 1.25 0 1 0 2.5 0a1.25 1.25 0 1 0 -2.5 0M121.25 113.50a1.25 1.25 0 1 0 2.5 0a1.25 1.25 0 1 0 -2.5 0M130.25 115.50a1.25 1.25 0 1 0 2.5 0a1.25 1.25 0 1 0 -2.5 0M135.25 115.50a1.25 1.25 0 1 0 2.5 0a1.25 1.25 0 1 0 -2.5 0M127.25 116.50a1.25 1.25 0 1 0 2.5 0a1.25 1.25 0 1 0 -2.5 0M118.25 118.50a1.25 1.25 0 1 0 2.5 0a1.25 1.25 0 1 0 -2.5 0M119.25 119.50a1.25 1.25 0 1 0 2.5 0a1.25 1.25 0 1 0 -2.5 0M127.25 120.50a1.25 1.25 0 1 0 2.5 0a1.25 1.25 0 1 0 -2.5 0M129.25 119.50a1.25 1.25 0 1 0 2.5 0a1.25 1.25 0 1 0 -2.5 0M122.25 126.50a1.25 1.25 0 1 0 2.5 0a1.25 1.25 0 1 0 -2.5 0M128.25 125.50a1.25 1.25 0 1 0 2.5 0a1.25 1.25 0 1 0 -2.5 0M118.25 131.50a1.25 1.25 0 1 0 2.5 0a1.25 1.25 0 1 0 -2.5 0M138.25 116.50a1.25 1.25 0 1 0 2.5 0a1.25 1.25 0 1 0 -2.5 0M142.25 114.50a1.25 1.25 0 1 0 2.5 0a1.25 1.25 0 1 0 -2.5 0M141.25 117.50a1.25 1.25 0 1 0 2.5 0a1.25 1.25 0 1 0 -2.5 0M143.25 118.50a1.25 1.25 0 1 0 2.5 0a1.25 1.25 0 1 0 -2.5 0M141.25 118.50a1.25 1.25 0 1 0 2.5 0a1.25 1.25 0 1 0 -2.5 0M147.25 114.50a1.25 1.25 0 1 0 2.5 0a1.25 1.25 0 1 0 -2.5 0M148.25 116.50a1.25 1.25 0 1 0 2.5 0a1.25 1.25 0 1 0 -2.5 0M147.25 116.50a1.25 1.25 0 1 0 2.5 0a1.25 1.25 0 1 0 -2.5 0M146.25 119.50a1.25 1.25 0 1 0 2.5 0a1.25 1.25 0 1 0 -2.5 0M146.25 120.50a1.25 1.25 0 1 0 2.5 0a1.25 1.25 0 1 0 -2.5 0M155.25 118.50a1.25 1.25 0 1 0 2.5 0a1.25 1.25 0 1 0 -2.5 0M149.25 125.50a1.25 1.25 0 1 0 2.5 0a1.25 1.25 0 1 0 -2.5 0M124.25 94.50a1.25 1.25 0 1 0 2.5 0a1.25 1.25 0 1 0 -2.5 0M126.25 94.50a1.25 1.25 0 1 0 2.5 0a1.25 1.25 0 1 0 -2.5 0M127.25 94.50a1.25 1.25 0 1 0 2.5 0a1.25 1.25 0 1 0 -2.5 0M129.25 93.50a1.25 1.25 0 1 0 2.5 0a1.25 1.25 0 1 0 -2.5 0M131.25 94.50a1.25 1.25 0 1 0 2.5 0a1.25 1.25 0 1 0 -2.5 0M123.25 96.50a1.25 1.25 0 1 0 2.5 0a1.25 1.25 0 1 0 -2.5 0M125.25 96.50a1.25 1.25 0 1 0 2.5 0a1.25 1.25 0 1 0 -2.5 0M126.25 96.50a1.25 1.25 0 1 0 2.5 0a1.25 1.25 0 1 0 -2.5 0M128.25 96.50a1.25 1.25 0 1 0 2.5 0a1.25 1.25 0 1 0 -2.5 0M130.25 96.50a1.25 1.25 0 1 0 2.5 0a1.25 1.25 0 1 0 -2.5 0M132.25 96.50a1.25 1.25 0 1 0 2.5 0a1.25 1.25 0 1 0 -2.5 0M133.25 98.50a1.25 1.25 0 1 0 2.5 0a1.25 1.25 0 1 0 -2.5 0M136.25 99.50a1.25 1.25 0 1 0 2.5 0a1.25 1.25 0 1 0 -2.5 0M135.25 101.50a1.25 1.25 0 1 0 2.5 0a1.25 1.25 0 1 0 -2.5 0M123.25 99.50a1.25 1.25 0 1 0 2.5 0a1.25 1.25 0 1 0 -2.5 0M126.25 99.50a1.25 1.25 0 1 0 2.5 0a1.25 1.25 0 1 0 -2.5 0M128.25 98.50a1.25 1.25 0 1 0 2.5 0a1.25 1.25 0 1 0 -2.5 0M131.25 98.50a1.25 1.25 0 1 0 2.5 0a1.25 1.25 0 1 0 -2.5 0M127.25 101.50a1.25 1.25 0 1 0 2.5 0a1.25 1.25 0 1 0 -2.5 0M129.25 101.50a1.25 1.25 0 1 0 2.5 0a1.25 1.25 0 1 0 -2.5 0M131.25 100.50a1.25 1.25 0 1 0 2.5 0a1.25 1.25 0 1 0 -2.5 0M132.25 101.50a1.25 1.25 0 1 0 2.5 0a1.25 1.25 0 1 0 -2.5 0M124.25 102.50a1.25 1.25 0 1 0 2.5 0a1.25 1.25 0 1 0 -2.5 0M126.25 103.50a1.25 1.25 0 1 0 2.5 0a1.25 1.25 0 1 0 -2.5 0M128.25 103.50a1.25 1.25 0 1 0 2.5 0a1.25 1.25 0 1 0 -2.5 0M130.25 103.50a1.25 1.25 0 1 0 2.5 0a1.25 1.25 0 1 0 -2.5 0M132.25 103.50a1.25 1.25 0 1 0 2.5 0a1.25 1.25 0 1 0 -2.5 0M134.25 103.50a1.25 1.25 0 1 0 2.5 0a1.25 1.25 0 1 0 -2.5 0M127.25 105.50a1.25 1.25 0 1 0 2.5 0a1.25 1.25 0 1 0 -2.5 0M129.25 105.50a1.25 1.25 0 1 0 2.5 0a1.25 1.25 0 1 0 -2.5 0M130.25 105.50a1.25 1.25 0 1 0 2.5 0a1.25 1.25 0 1 0 -2.5 0M132.25 105.50a1.25 1.25 0 1 0 2.5 0a1.25 1.25 0 1 0 -2.5 0M135.25 105.50a1.25 1.25 0 1 0 2.5 0a1.25 1.25 0 1 0 -2.5 0M124.25 106.50a1.25 1.25 0 1 0 2.5 0a1.25 1.25 0 1 0 -2.5 0M126.25 107.50a1.25 1.25 0 1 0 2.5 0a1.25 1.25 0 1 0 -2.5 0M128.25 107.50a1.25 1.25 0 1 0 2.5 0a1.25 1.25 0 1 0 -2.5 0M131.25 107.50a1.25 1.25 0 1 0 2.5 0a1.25 1.25 0 1 0 -2.5 0M132.25 107.50a1.25 1.25 0 1 0 2.5 0a1.25 1.25 0 1 0 -2.5 0M134.25 107.50a1.25 1.25 0 1 0 2.5 0a1.25 1.25 0 1 0 -2.5 0M126.25 109.50a1.25 1.25 0 1 0 2.5 0a1.25 1.25 0 1 0 -2.5 0M128.25 109.50a1.25 1.25 0 1 0 2.5 0a1.25 1.25 0 1 0 -2.5 0M130.25 109.50a1.25 1.25 0 1 0 2.5 0a1.25 1.25 0 1 0 -2.5 0M132.25 109.50a1.25 1.25 0 1 0 2.5 0a1.25 1.25 0 1 0 -2.5 0M134.25 109.50a1.25 1.25 0 1 0 2.5 0a1.25 1.25 0 1 0 -2.5 0M136.25 108.50a1.25 1.25 0 1 0 2.5 0a1.25 1.25 0 1 0 -2.5 0M125.25 111.50a1.25 1.25 0 1 0 2.5 0a1.25 1.25 0 1 0 -2.5 0M127.25 111.50a1.25 1.25 0 1 0 2.5 0a1.25 1.25 0 1 0 -2.5 0M129.25 111.50a1.25 1.25 0 1 0 2.5 0a1.25 1.25 0 1 0 -2.5 0M131.25 111.50a1.25 1.25 0 1 0 2.5 0a1.25 1.25 0 1 0 -2.5 0M133.25 111.50a1.25 1.25 0 1 0 2.5 0a1.25 1.25 0 1 0 -2.5 0M123.25 113.50a1.25 1.25 0 1 0 2.5 0a1.25 1.25 0 1 0 -2.5 0M126.25 113.50a1.25 1.25 0 1 0 2.5 0a1.25 1.25 0 1 0 -2.5 0M131.25 113.50a1.25 1.25 0 1 0 2.5 0a1.25 1.25 0 1 0 -2.5 0M137.25 113.50a1.25 1.25 0 1 0 2.5 0a1.25 1.25 0 1 0 -2.5 0M135.25 107.50a1.25 1.25 0 1 0 2.5 0a1.25 1.25 0 1 0 -2.5 0M137.25 108.50a1.25 1.25 0 1 0 2.5 0a1.25 1.25 0 1 0 -2.5 0M126.25 100.50a1.25 1.25 0 1 0 2.5 0a1.25 1.25 0 1 0 -2.5 0M127.25 104.50a1.25 1.25 0 1 0 2.5 0a1.25 1.25 0 1 0 -2.5 0M129.25 102.50a1.25 1.25 0 1 0 2.5 0a1.25 1.25 0 1 0 -2.5 0M130.25 106.50a1.25 1.25 0 1 0 2.5 0a1.25 1.25 0 1 0 -2.5 0M131.25 108.50a1.25 1.25 0 1 0 2.5 0a1.25 1.25 0 1 0 -2.5 0M127.25 108.50a1.25 1.25 0 1 0 2.5 0a1.25 1.25 0 1 0 -2.5 0M126.25 105.50a1.25 1.25 0 1 0 2.5 0a1.25 1.25 0 1 0 -2.5 0M129.25 110.50a1.25 1.25 0 1 0 2.5 0a1.25 1.25 0 1 0 -2.5 0M131.25 102.50a1.25 1.25 0 1 0 2.5 0a1.25 1.25 0 1 0 -2.5 0M133.25 106.50a1.25 1.25 0 1 0 2.5 0a1.25 1.25 0 1 0 -2.5 0M128.25 99.50a1.25 1.25 0 1 0 2.5 0a1.25 1.25 0 1 0 -2.5 0M126.25 102.50a1.25 1.25 0 1 0 2.5 0a1.25 1.25 0 1 0 -2.5 0M98.25 76.50a1.25 1.25 0 1 0 2.5 0a1.25 1.25 0 1 0 -2.5 0M98.25 101.50a1.25 1.25 0 1 0 2.5 0a1.25 1.25 0 1 0 -2.5 0M130.25 89.50a1.25 1.25 0 1 0 2.5 0a1.25 1.25 0 1 0 -2.5 0M126.25 92.50a1.25 1.25 0 1 0 2.5 0a1.25 1.25 0 1 0 -2.5 0M93.25 79.50a1.25 1.25 0 1 0 2.5 0a1.25 1.25 0 1 0 -2.5 0M94.25 85.50a1.25 1.25 0 1 0 2.5 0a1.25 1.25 0 1 0 -2.5 0M125.25 111.50a1.25 1.25 0 1 0 2.5 0a1.25 1.25 0 1 0 -2.5 0M104.25 105.50a1.25 1.25 0 1 0 2.5 0a1.25 1.25 0 1 0 -2.5 0M90.25 95.50a1.25 1.25 0 1 0 2.5 0a1.25 1.25 0 1 0 -2.5 0M112.25 89.50a1.25 1.25 0 1 0 2.5 0a1.25 1.25 0 1 0 -2.5 0M119.25 100.50a1.25 1.25 0 1 0 2.5 0a1.25 1.25 0 1 0 -2.5 0M90.25 88.50a1.25 1.25 0 1 0 2.5 0a1.25 1.25 0 1 0 -2.5 0M114.25 94.50a1.25 1.25 0 1 0 2.5 0a1.25 1.25 0 1 0 -2.5 0M109.25 72.50a1.25 1.25 0 1 0 2.5 0a1.25 1.25 0 1 0 -2.5 0M98.25 76.50a1.25 1.25 0 1 0 2.5 0a1.25 1.25 0 1 0 -2.5 0M99.25 88.50a1.25 1.25 0 1 0 2.5 0a1.25 1.25 0 1 0 -2.5 0M114.25 88.50a1.25 1.25 0 1 0 2.5 0a1.25 1.25 0 1 0 -2.5 0M108.25 87.50a1.25 1.25 0 1 0 2.5 0a1.25 1.25 0 1 0 -2.5 0M93.25 87.50a1.25 1.25 0 1 0 2.5 0a1.25 1.25 0 1 0 -2.5 0M118.25 75.50a1.25 1.25 0 1 0 2.5 0a1.25 1.25 0 1 0 -2.5 0M96.25 94.50a1.25 1.25 0 1 0 2.5 0a1.25 1.25 0 1 0 -2.5 0M122.25 88.50a1.25 1.25 0 1 0 2.5 0a1.25 1.25 0 1 0 -2.5 0M108.25 86.50a1.25 1.25 0 1 0 2.5 0a1.25 1.25 0 1 0 -2.5 0M91.25 91.50a1.25 1.25 0 1 0 2.5 0a1.25 1.25 0 1 0 -2.5 0M127.25 92.50a1.25 1.25 0 1 0 2.5 0a1.25 1.25 0 1 0 -2.5 0M97.25 101.50a1.25 1.25 0 1 0 2.5 0a1.25 1.25 0 1 0 -2.5 0M108.25 74.50a1.25 1.25 0 1 0 2.5 0a1.25 1.25 0 1 0 -2.5 0M112.25 110.50a1.25 1.25 0 1 0 2.5 0a1.25 1.25 0 1 0 -2.5 0M110.25 111.50a1.25 1.25 0 1 0 2.5 0a1.25 1.25 0 1 0 -2.5 0M126.25 103.50a1.25 1.25 0 1 0 2.5 0a1.25 1.25 0 1 0 -2.5 0M136.25 109.50a1.25 1.25 0 1 0 2.5 0a1.25 1.25 0 1 0 -2.5 0M120.25 95.50a1.25 1.25 0 1 0 2.5 0a1.25 1.25 0 1 0 -2.5 0M134.25 108.50a1.25 1.25 0 1 0 2.5 0a1.25 1.25 0 1 0 -2.5 0M133.25 107.50a1.25 1.25 0 1 0 2.5 0a1.25 1.25 0 1 0 -2.5 0M129.25 110.50a1.25 1.25 0 1 0 2.5 0a1.25 1.25 0 1 0 -2.5 0M108.25 74.50a1.25 1.25 0 1 0 2.5 0a1.25 1.25 0 1 0 -2.5 0M94.25 77.50a1.25 1.25 0 1 0 2.5 0a1.25 1.25 0 1 0 -2.5 0M120.25 90.50a1.25 1.25 0 1 0 2.5 0a1.25 1.25 0 1 0 -2.5 0M95.25 104.50a1.25 1.25 0 1 0 2.5 0a1.25 1.25 0 1 0 -2.5 0M100.25 81.50a1.25 1.25 0 1 0 2.5 0a1.25 1.25 0 1 0 -2.5 0M122.25 113.50a1.25 1.25 0 1 0 2.5 0a1.25 1.25 0 1 0 -2.5 0M95.25 111.50a1.25 1.25 0 1 0 2.5 0a1.25 1.25 0 1 0 -2.5 0M107.25 106.50a1.25 1.25 0 1 0 2.5 0a1.25 1.25 0 1 0 -2.5 0M100.25 97.50a1.25 1.25 0 1 0 2.5 0a1.25 1.25 0 1 0 -2.5 0M120.25 93.50a1.25 1.25 0 1 0 2.5 0a1.25 1.25 0 1 0 -2.5 0M131.25 89.50a1.25 1.25 0 1 0 2.5 0a1.25 1.25 0 1 0 -2.5 0M129.25 91.50a1.25 1.25 0 1 0 2.5 0a1.25 1.25 0 1 0 -2.5 0M128.25 97.50a1.25 1.25 0 1 0 2.5 0a1.25 1.25 0 1 0 -2.5 0M129.25 99.50a1.25 1.25 0 1 0 2.5 0a1.25 1.25 0 1 0 -2.5 0M131.25 100.50a1.25 1.25 0 1 0 2.5 0a1.25 1.25 0 1 0 -2.5 0M132.25 99.50a1.25 1.25 0 1 0 2.5 0a1.25 1.25 0 1 0 -2.5 0M128.25 102.50a1.25 1.25 0 1 0 2.5 0a1.25 1.25 0 1 0 -2.5 0M129.25 102.50a1.25 1.25 0 1 0 2.5 0a1.25 1.25 0 1 0 -2.5 0M126.25 106.50a1.25 1.25 0 1 0 2.5 0a1.25 1.25 0 1 0 -2.5 0M131.25 107.50a1.25 1.25 0 1 0 2.5 0a1.25 1.25 0 1 0 -2.5 0M133.25 106.50a1.25 1.25 0 1 0 2.5 0a1.25 1.25 0 1 0 -2.5 0M134.25 105.50a1.25 1.25 0 1 0 2.5 0a1.25 1.25 0 1 0 -2.5 0M135.25 107.50a1.25 1.25 0 1 0 2.5 0a1.25 1.25 0 1 0 -2.5 0M138.25 106.50a1.25 1.25 0 1 0 2.5 0a1.25 1.25 0 1 0 -2.5 0M130.25 110.50a1.25 1.25 0 1 0 2.5 0a1.25 1.25 0 1 0 -2.5 0M133.25 110.50a1.25 1.25 0 1 0 2.5 0a1.25 1.25 0 1 0 -2.5 0M134.25 111.50a1.25 1.25 0 1 0 2.5 0a1.25 1.25 0 1 0 -2.5 0M134.25 109.50a1.25 1.25 0 1 0 2.5 0a1.25 1.25 0 1 0 -2.5 0M136.25 112.50a1.25 1.25 0 1 0 2.5 0a1.25 1.25 0 1 0 -2.5 0M123.25 116.50a1.25 1.25 0 1 0 2.5 0a1.25 1.25 0 1 0 -2.5 0M134.25 115.50a1.25 1.25 0 1 0 2.5 0a1.25 1.25 0 1 0 -2.5 0M130.25 119.50a1.25 1.25 0 1 0 2.5 0a1.25 1.25 0 1 0 -2.5 0M133.25 120.50a1.25 1.25 0 1 0 2.5 0a1.25 1.25 0 1 0 -2.5 0M135.25 123.50a1.25 1.25 0 1 0 2.5 0a1.25 1.25 0 1 0 -2.5 0M141.25 103.50a1.25 1.25 0 1 0 2.5 0a1.25 1.25 0 1 0 -2.5 0M140.25 106.50a1.25 1.25 0 1 0 2.5 0a1.25 1.25 0 1 0 -2.5 0M142.25 107.50a1.25 1.25 0 1 0 2.5 0a1.25 1.25 0 1 0 -2.5 0M146.25 105.50a1.25 1.25 0 1 0 2.5 0a1.25 1.25 0 1 0 -2.5 0M148.25 109.50a1.25 1.25 0 1 0 2.5 0a1.25 1.25 0 1 0 -2.5 0M149.25 109.50a1.25 1.25 0 1 0 2.5 0a1.25 1.25 0 1 0 -2.5 0M151.25 109.50a1.25 1.25 0 1 0 2.5 0a1.25 1.25 0 1 0 -2.5 0M141.25 110.50a1.25 1.25 0 1 0 2.5 0a1.25 1.25 0 1 0 -2.5 0M143.25 113.50a1.25 1.25 0 1 0 2.5 0a1.25 1.25 0 1 0 -2.5 0M146.25 111.50a1.25 1.25 0 1 0 2.5 0a1.25 1.25 0 1 0 -2.5 0M145.25 114.50a1.25 1.25 0 1 0 2.5 0a1.25 1.25 0 1 0 -2.5 0M139.25 116.50a1.25 1.25 0 1 0 2.5 0a1.25 1.25 0 1 0 -2.5 0M139.25 118.50a1.25 1.25 0 1 0 2.5 0a1.25 1.25 0 1 0 -2.5 0M139.25 119.50a1.25 1.25 0 1 0 2.5 0a1.25 1.25 0 1 0 -2.5 0M138.25 120.50a1.25 1.25 0 1 0 2.5 0a1.25 1.25 0 1 0 -2.5 0M141.25 119.50a1.25 1.25 0 1 0 2.5 0a1.25 1.25 0 1 0 -2.5 0M144.25 116.50a1.25 1.25 0 1 0 2.5 0a1.25 1.25 0 1 0 -2.5 0M145.25 119.50a1.25 1.25 0 1 0 2.5 0a1.25 1.25 0 1 0 -2.5 0M146.25 116.50a1.25 1.25 0 1 0 2.5 0a1.25 1.25 0 1 0 -2.5 0M146.25 120.50a1.25 1.25 0 1 0 2.5 0a1.25 1.25 0 1 0 -2.5 0M145.25 121.50a1.25 1.25 0 1 0 2.5 0a1.25 1.25 0 1 0 -2.5 0M144.25 123.50a1.25 1.25 0 1 0 2.5 0a1.25 1.25 0 1 0 -2.5 0M148.25 115.50a1.25 1.25 0 1 0 2.5 0a1.25 1.25 0 1 0 -2.5 0M149.25 117.50a1.25 1.25 0 1 0 2.5 0a1.25 1.25 0 1 0 -2.5 0M149.25 120.50a1.25 1.25 0 1 0 2.5 0a1.25 1.25 0 1 0 -2.5 0M150.25 121.50a1.25 1.25 0 1 0 2.5 0a1.25 1.25 0 1 0 -2.5 0M150.25 118.50a1.25 1.25 0 1 0 2.5 0a1.25 1.25 0 1 0 -2.5 0M152.25 120.50a1.25 1.25 0 1 0 2.5 0a1.25 1.25 0 1 0 -2.5 0M153.25 120.50a1.25 1.25 0 1 0 2.5 0a1.25 1.25 0 1 0 -2.5 0M154.25 120.50a1.25 1.25 0 1 0 2.5 0a1.25 1.25 0 1 0 -2.5 0M151.25 133.50a1.25 1.25 0 1 0 2.5 0a1.25 1.25 0 1 0 -2.5 0M156.25 114.50a1.25 1.25 0 1 0 2.5 0a1.25 1.25 0 1 0 -2.5 0M152.25 117.50a1.25 1.25 0 1 0 2.5 0a1.25 1.25 0 1 0 -2.5 0M157.25 118.50a1.25 1.25 0 1 0 2.5 0a1.25 1.25 0 1 0 -2.5 0M157.25 121.50a1.25 1.25 0 1 0 2.5 0a1.25 1.25 0 1 0 -2.5 0M159.25 119.50a1.25 1.25 0 1 0 2.5 0a1.25 1.25 0 1 0 -2.5 0M159.25 122.50a1.25 1.25 0 1 0 2.5 0a1.25 1.25 0 1 0 -2.5 0M160.25 119.50a1.25 1.25 0 1 0 2.5 0a1.25 1.25 0 1 0 -2.5 0M164.25 121.50a1.25 1.25 0 1 0 2.5 0a1.25 1.25 0 1 0 -2.5 0M164.25 115.50a1.25 1.25 0 1 0 2.5 0a1.25 1.25 0 1 0 -2.5 0M165.25 116.50a1.25 1.25 0 1 0 2.5 0a1.25 1.25 0 1 0 -2.5 0M166.25 128.50a1.25 1.25 0 1 0 2.5 0a1.25 1.25 0 1 0 -2.5 0M166.25 137.50a1.25 1.25 0 1 0 2.5 0a1.25 1.25 0 1 0 -2.5 0M168.25 118.50a1.25 1.25 0 1 0 2.5 0a1.25 1.25 0 1 0 -2.5 0M169.25 113.50a1.25 1.25 0 1 0 2.5 0a1.25 1.25 0 1 0 -2.5 0M170.25 114.50a1.25 1.25 0 1 0 2.5 0a1.25 1.25 0 1 0 -2.5 0M172.25 111.50a1.25 1.25 0 1 0 2.5 0a1.25 1.25 0 1 0 -2.5 0M173.25 113.50a1.25 1.25 0 1 0 2.5 0a1.25 1.25 0 1 0 -2.5 0M169.25 118.50a1.25 1.25 0 1 0 2.5 0a1.25 1.25 0 1 0 -2.5 0M170.25 121.50a1.25 1.25 0 1 0 2.5 0a1.25 1.25 0 1 0 -2.5 0M169.25 123.50a1.25 1.25 0 1 0 2.5 0a1.25 1.25 0 1 0 -2.5 0M169.25 124.50a1.25 1.25 0 1 0 2.5 0a1.25 1.25 0 1 0 -2.5 0M173.25 123.50a1.25 1.25 0 1 0 2.5 0a1.25 1.25 0 1 0 -2.5 0M173.25 123.50a1.25 1.25 0 1 0 2.5 0a1.25 1.25 0 1 0 -2.5 0M176.25 116.50a1.25 1.25 0 1 0 2.5 0a1.25 1.25 0 1 0 -2.5 0M176.25 121.50a1.25 1.25 0 1 0 2.5 0a1.25 1.25 0 1 0 -2.5 0M176.25 129.50a1.25 1.25 0 1 0 2.5 0a1.25 1.25 0 1 0 -2.5 0M183.25 105.50a1.25 1.25 0 1 0 2.5 0a1.25 1.25 0 1 0 -2.5 0M190.25 121.50a1.25 1.25 0 1 0 2.5 0a1.25 1.25 0 1 0 -2.5 0M193.25 127.50a1.25 1.25 0 1 0 2.5 0a1.25 1.25 0 1 0 -2.5 0M144.25 121.50a1.25 1.25 0 1 0 2.5 0a1.25 1.25 0 1 0 -2.5 0M145.25 117.50a1.25 1.25 0 1 0 2.5 0a1.25 1.25 0 1 0 -2.5 0M149.25 122.50a1.25 1.25 0 1 0 2.5 0a1.25 1.25 0 1 0 -2.5 0M145.25 119.50a1.25 1.25 0 1 0 2.5 0a1.25 1.25 0 1 0 -2.5 0M144.25 116.50a1.25 1.25 0 1 0 2.5 0a1.25 1.25 0 1 0 -2.5 0M147.25 115.50a1.25 1.25 0 1 0 2.5 0a1.25 1.25 0 1 0 -2.5 0M143.25 118.50a1.25 1.25 0 1 0 2.5 0a1.25 1.25 0 1 0 -2.5 0M147.25 118.50a1.25 1.25 0 1 0 2.5 0a1.25 1.25 0 1 0 -2.5 0" fill="none" stroke="#000000" stroke-width="0.6"/>
<path d="M245.25 106.50a1.25 1.25 0 1 0 2.5 0a1.25 1.25 0 1 0 -2.5 0M238.25 118.50a1.25 1.25 0 1 0 2.5 0a1.25 1.25 0 1 0 -2.5 0M247.25 123.50a1.25 1.25 0 1 0 2.5 0a1.25 1.25 0 1 0 -2.5 0M248.25 123.50a1.25 1.25 0 1 0 2.5 0a1.25 1.25 0 1 0 -2.5 0M253.25 127.50a1.25 1.25 0 1 0 2.5 0a1.25 1.25 0 1 0 -2.5 0M267.25 123.50a1.25 1.25 0 1 0 2.5 0a1.25 1.25 0 1 0 -2.5 0M271.25 120.50a1.25 1.25 0 1 0 2.5 0a1.25 1.25 0 1 0 -2.5 0M269.25 127.50a1.25 1.25 0 1 0 2.5 0a1.25 1.25 0 1 0 -2.5 0M269.25 131.50a1.25 1.25 0 1 0 2.5 0a1.25 1.25 0 1 0 -2.5 0M237.25 84.50a1.25 1.25 0 1 0 2.5 0a1.25 1.25 0 1 0 -2.5 0M279.25 110.50a1.25 1.25 0 1 0 2.5 0a1.25 1.25 0 1 0 -2.5 0M279.25 116.50a1.25 1.25 0 1 0 2.5 0a1.25 1.25 0 1 0 -2.5 0M286.25 117.50a1.25 1.25 0 1 0 2.5 0a1.25 1.25 0 1 0 -2.5 0M305.25 116.50a1.25 1.25 0 1 0 2.5 0a1.25 1.25 0 1 0 -2.5 0M313.25 110.50a1.25 1.25 0 1 0 2.5 0a1.25 1.25 0 1 0 -2.5 0M303.25 107.50a1.25 1.25 0 1 0 2.5 0a1.25 1.25 0 1 0 -2.5 0M307.25 105.50a1.25 1.25 0 1 0 2.5 0a1.25 1.25 0 1 0 -2.5 0M319.25 106.50a1.25 1.25 0 1 0 2.5 0a1.25 1.25 0 1 0 -2.5 0M321.25 108.50a1.25 1.25 0 1 0 2.5 0a1.25 1.25 0 1 0 -2.5 0M326.25 107.50a1.25 1.25 0 1 0 2.5 0a1.25 1.25 0 1 0 -2.5 0M296.25 104.50a1.25 1.25 0 1 0 2.5 0a1.25 1.25 0 1 0 -2.5 0M288.25 91.50a1.25 1.25 0 1 0 2.5 0a1.25 1.25 0 1 0 -2.5 0M314.25 93.50a1.25 1.25 0 1 0 2.5 0a1.25 1.25 0 1 0 -2.5 0M323.25 92.50a1.25 1.25 0 1 0 2.5 0a1.25 1.25 0 1 0 -2.5 0M329.25 94.50a1.25 1.25 0 1 0 2.5 0a1.25 1.25 0 1 0 -2.5 0M333.25 90.50a1.25 1.25 0 1 0 2.5 0a1.25 1.25 0 1 0 -2.5 0M335.25 92.50a1.25 1.25 0 1 0 2.5 0a1.25 1.25 0 1 0 -2.5 0M337.25 89.50a1.25 1.25 0 1 0 2.5 0a1.25 1.25 0 1 0 -2.5 0M322.25 98.50a1.25 1.25 0 1 0 2.5 0a1.25 1.25 0 1 0 -2.5 0M299.25 100.50a1.25 1.25 0 1 0 2.5 0a1.25 1.25 0 1 0 -2.5 0M330.25 103.50a1.25 1.25 0 1 0 2.5 0a1.25 1.25 0 1 0 -2.5 0M333.25 99.50a1.25 1.25 0 1 0 2.5 0a1.25 1.25 0 1 0 -2.5 0M334.25 100.50a1.25 1.25 0 1 0 2.5 0a1.25 1.25 0 1 0 -2.5 0M334.25 103.50a1.25 1.25 0 1 0 2.5 0a1.25 1.25 0 1 0 -2.5 0M336.25 109.50a1.25 1.25 0 1 0 2.5 0a1.25 1.25 0 1 0 -2.5 0M323.25 57.50a1.25 1.25 0 1 0 2.5 0a1.25 1.25 0 1 0 -2.5 0M323.25 61.50a1.25 1.25 0 1 0 2.5 0a1.25 1.25 0 1 0 -2.5 0M326.25 61.50a1.25 1.25 0 1 0 2.5 0a1.25 1.25 0 1 0 -2.5 0M326.25 65.50a1.25 1.25 0 1 0 2.5 0a1.25 1.25 0 1 0 -2.5 0M334.25 67.50a1.25 1.25 0 1 0 2.5 0a1.25 1.25 0 1 0 -2.5 0M310.25 66.50a1.25 1.25 0 1 0 2.5 0a1.25 1.25 0 1 0 -2.5 0M309.25 69.50a1.25 1.25 0 1 0 2.5 0a1.25 1.25 0 1 0 -2.5 0M315.25 69.50a1.25 1.25 0 1 0 2.5 0a1.25 1.25 0 1 0 -2.5 0M315.25 72.50a1.25 1.25 0 1 0 2.5 0a1.25 1.25 0 1 0 -2.5 0M314.25 74.50a1.25 1.25 0 1 0 2.5 0a1.25 1.25 0 1 0 -2.5 0M319.25 72.50a1.25 1.25 0 1 0 2.5 0a1.25 1.25 0 1 0 -2.5 0M316.25 77.50a1.25 1.25 0 1 0 2.5 0a1.25 1.25 0 1 0 -2.5 0M315.25 78.50a1.25 1.25 0 1 0 2.5 0a1.25 1.25 0 1 0 -2.5 0M322.25 77.50a1.25 1.25 0 1 0 2.5 0a1.25 1.25 0 1 0 -2.5 0M332.25 74.50a1.25 1.25 0 1 0 2.5 0a1.25 1.25 0 1 0 -2.5 0M332.25 83.50a1.25 1.25 0 1 0 2.5 0a1.25 1.25 0 1 0 -2.5 0M297.25 79.50a1.25 1.25 0 1 0 2.5 0a1.25 1.25 0 1 0 -2.5 0M282.25 48.50a1.25 1.25 0 1 0 2.5 0a1.25 1.25 0 1 0 -2.5 0M325.25 30.50a1.25 1.25 0 1 0 2.5 0a1.25 1.25 0 1 0 -2.5 0M345.25 67.50a1.25 1.25 0 1 0 2.5 0a1.25 1.25 0 1 0 -2.5 0M378.25 61.50a1.25 1.25 0 1 0 2.5 0a1.25 1.25 0 1 0 -2.5 0M380.25 71.50a1.25 1.25 0 1 0 2.5 0a1.25 1.25 0 1 0 -2.5 0M359.25 91.50a1.25 1.25 0 1 0 2.5 0a1.25 1.25 0 1 0 -2.5 0M361.25 101.50a1.25 1.25 0 1 0 2.5 0a1.25 1.25 0 1 0 -2.5 0M347.25 106.50a1.25 1.25 0 1 0 2.5 0a1.25 1.25 0 1 0 -2.5 0M354.25 117.50a1.25 1.25 0 1 0 2.5 0a1.25 1.25 0 1 0 -2.5 0" fill="none" stroke="#000000" stroke-width="0.6"/>
<path d="M68.25 170.50a1.25 1.25 0 1 0 2.5 0a1.25 1.25 0 1 0 -2.5 0M58.25 182.50a1.25 1.25 0 1 0 2.5 0a1.25 1.25 0 1 0 -2.5 0M64.25 185.50a1.25 1.25 0 1 0 2.5 0a1.25 1.25 0 1 0 -2.5 0M61.25 188.50a1.25 1.25 0 1 0 2.5 0a1.25 1.25 0 1 0 -2.5 0M67.25 201.50a1.25 1.25 0 1 0 2.5 0a1.25 1.25 0 1 0 -2.5 0M50.25 207.50a1.25 1.25 0 1 0 2.5 0a1.25 1.25 0 1 0 -2.5 0M31.25 211.50a1.25 1.25 0 1 0 2.5 0a1.25 1.25 0 1 0 -2.5 0M61.25 214.50a1.25 1.25 0 1 0 2.5 0a1.25 1.25 0 1 0 -2.5 0M59.25 218.50a1.25 1.25 0 1 0 2.5 0a1.25 1.25 0 1 0 -2.5 0M68.25 218.50a1.25 1.25 0 1 0 2.5 0a1.25 1.25 0 1 0 -2.5 0M65.25 221.50a1.25 1.25 0 1 0 2.5 0a1.25 1.25 0 1 0 -2.5 0M57.25 222.50a1.25 1.25 0 1 0 2.5 0a1.25 1.25 0 1 0 -2.5 0M37.25 228.50a1.25 1.25 0 1 0 2.5 0a1.25 1.25 0 1 0 -2.5 0M49.25 234.50a1.25 1.25 0 1 0 2.5 0a1.25 1.25 0 1 0 -2.5 0M78.25 198.50a1.25 1.25 0 1 0 2.5 0a1.25 1.25 0 1 0 -2.5 0M78.25 199.50a1.25 1.25 0 1 0 2.5 0a1.25 1.25 0 1 0 -2.5 0M82.25 199.50a1.25 1.25 0 1 0 2.5 0a1.25 1.25 0 1 0 -2.5 0M90.25 201.50a1.25 1.25 0 1 0 2.5 0a1.25 1.25 0 1 0 -2.5 0M97.25 202.50a1.25 1.25 0 1 0 2.5 0a1.25 1.25 0 1 0 -2.5 0M89.25 205.50a1.25 1.25 0 1 0 2.5 0a1.25 1.25 0 1 0 -2.5 0M93.25 208.50a1.25 1.25 0 1 0 2.5 0a1.25 1.25 0 1 0 -2.5 0M76.25 209.50a1.25 1.25 0 1 0 2.5 0a1.25 1.25 0 1 0 -2.5 0M82.25 210.50a1.25 1.25 0 1 0 2.5 0a1.25 1.25 0 1 0 -2.5 0M87.25 210.50a1.25 1.25 0 1 0 2.5 0a1.25 1.25 0 1 0 -2.5 0M98.25 210.50a1.25 1.25 0 1 0 2.5 0a1.25 1.25 0 1 0 -2.5 0M105.25 210.50a1.25 1.25 0 1 0 2.5 0a1.25 1.25 0 1 0 -2.5 0M76.25 213.50a1.25 1.25 0 1 0 2.5 0a1.25 1.25 0 1 0 -2.5 0M76.25 216.50a1.25 1.25 0 1 0 2.5 0a1.25 1.25 0 1 0 -2.5 0M93.25 213.50a1.25 1.25 0 1 0 2.5 0a1.25 1.25 0 1 0 -2.5 0M94.25 215.50a1.25 1.25 0 1 0 2.5 0a1.25 1.25 0 1 0 -2.5 0M101.25 215.50a1.25 1.25 0 1 0 2.5 0a1.25 1.25 0 1 0 -2.5 0M107.25 214.50a1.25 1.25 0 1 0 2.5 0a1.25 1.25 0 1 0 -2.5 0M105.25 216.50a1.25 1.25 0 1 0 2.5 0a1.25 1.25 0 1 0 -2.5 0M109.25 217.50a1.25 1.25 0 1 0 2.5 0a1.25 1.25 0 1 0 -2.5 0M105.25 219.50a1.25 1.25 0 1 0 2.5 0a1.25 1.25 0 1 0 -2.5 0M115.25 214.50a1.25 1.25 0 1 0 2.5 0a1.25 1.25 0 1 0 -2.5 0M115.25 214.50a1.25 1.25 0 1 0 2.5 0a1.25 1.25 0 1 0 -2.5 0M80.25 219.50a1.25 1.25 0 1 0 2.5 0a1.25 1.25 0 1 0 -2.5 0M115.25 221.50a1.25 1.25 0 1 0 2.5 0a1.25 1.25 0 1 0 -2.5 0M99.25 222.50a1.25 1.25 0 1 0 2.5 0a1.25 1.25 0 1 0 -2.5 0M100.25 223.50a1.25 1.25 0 1 0 2.5 0a1.25 1.25 0 1 0 -2.5 0M88.25 223.50a1.25 1.25 0 1 0 2.5 0a1.25 1.25 0 1 0 -2.5 0M77.25 223.50a1.25 1.25 0 1 0 2.5 0a1.25 1.25 0 1 0 -2.5 0M113.25 224.50a1.25 1.25 0 1 0 2.5 0a1.25 1.25 0 1 0 -2.5 0M76.25 226.50a1.25 1.25 0 1 0 2.5 0a1.25 1.25 0 1 0 -2.5 0M84.25 229.50a1.25 1.25 0 1 0 2.5 0a1.25 1.25 0 1 0 -2.5 0M87.25 230.50a1.25 1.25 0 1 0 2.5 0a1.25 1.25 0 1 0 -2.5 0M94.25 229.50a1.25 1.25 0 1 0 2.5 0a1.25 1.25 0 1 0 -2.5 0M95.25 230.50a1.25 1.25 0 1 0 2.5 0a1.25 1.25 0 1 0 -2.5 0M103.25 227.50a1.25 1.25 0 1 0 2.5 0a1.25 1.25 0 1 0 -2.5 0M104.25 227.50a1.25 1.25 0 1 0 2.5 0a1.25 1.25 0 1 0 -2.5 0M102.25 229.50a1.25 1.25 0 1 0 2.5 0a1.25 1.25 0 1 0 -2.5 0M110.25 226.50a1.25 1.25 0 1 0 2.5 0a1.25 1.25 0 1 0 -2.5 0M112.25 227.50a1.25 1.25 0 1 0 2.5 0a1.25 1.25 0 1 0 -2.5 0M115.25 228.50a1.25 1.25 0 1 0 2.5 0a1.25 1.25 0 1 0 -2.5 0M114.25 233.50a1.25 1.25 0 1 0 2.5 0a1.25 1.25 0 1 0 -2.5 0M105.25 233.50a1.25 1.25 0 1 0 2.5 0a1.25 1.25 0 1 0 -2.5 0M105.25 235.50a1.25 1.25 0 1 0 2.5 0a1.25 1.25 0 1 0 -2.5 0M107.25 237.50a1.25 1.25 0 1 0 2.5 0a1.25 1.25 0 1 0 -2.5 0M109.25 238.50a1.25 1.25 0 1 0 2.5 0a1.25 1.25 0 1 0 -2.5 0M82.25 238.50a1.25 1.25 0 1 0 2.5 0a1.25 1.25 0 1 0 -2.5 0M90.25 239.50a1.25 1.25 0 1 0 2.5 0a1.25 1.25 0 1 0 -2.5 0M93.25 239.50a1.25 1.25 0 1 0 2.5 0a1.25 1.25 0 1 0 -2.5 0M94.25 243.50a1.25 1.25 0 1 0 2.5 0a1.25 1.25 0 1 0 -2.5 0M96.25 243.50a1.25 1.25 0 1 0 2.5 0a1.25 1.25 0 1 0 -2.5 0M100.25 245.50a1.25 1.25 0 1 0 2.5 0a1.25 1.25 0 1 0 -2.5 0M103.25 246.50a1.25 1.25 0 1 0 2.5 0a1.25 1.25 0 1 0 -2.5 0M103.25 243.50a1.25 1.25 0 1 0 2.5 0a1.25 1.25 0 1 0 -2.5 0M104.25 244.50a1.25 1.25 0 1 0 2.5 0a1.25 1.25 0 1 0 -2.5 0M107.25 242.50a1.25 1.25 0 1 0 2.5 0a1.25 1.25 0 1 0 -2.5 0M108.25 243.50a1.25 1.25 0 1 0 2.5 0a1.25 1.25 0 1 0 -2.5 0M108.25 245.50a1.25 1.25 0 1 0 2.5 0a1.25 1.25 0 1 0 -2.5 0M112.25 243.50a1.25 1.25 0 1 0 2.5 0a1.25 1.25 0 1 0 -2.5 0M115.25 244.50a1.25 1.25 0 1 0 2.5 0a1.25 1.25 0 1 0 -2.5 0M109.25 249.50a1.25 1.25 0 1 0 2.5 0a1.25 1.25 0 1 0 -2.5 0M100.25 251.50a1.25 1.25 0 1 0 2.5 0a1.25 1.25 0 1 0 -2.5 0M81.25 253.50a1.25 1.25 0 1 0 2.5 0a1.25 1.25 0 1 0 -2.5 0M89.25 253.50a1.25 1.25 0 1 0 2.5 0a1.25 1.25 0 1 0 -2.5 0M90.25 253.50a1.25 1.25 0 1 0 2.5 0a1.25 1.25 0 1 0 -2.5 0M96.25 254.50a1.25 1.25 0 1 0 2.5 0a1.25 1.25 0 1 0 -2.5 0M92.25 258.50a1.25 1.25 0 1 0 2.5 0a1.25 1.25 0 1 0 -2.5 0M111.25 252.50a1.25 1.25 0 1 0 2.5 0a1.25 1.25 0 1 0 -2.5 0M112.25 253.50a1.25 1.25 0 1 0 2.5 0a1.25 1.25 0 1 0 -2.5 0M111.25 255.50a1.25 1.25 0 1 0 2.5 0a1.25 1.25 0 1 0 -2.5 0M113.25 256.50a1.25 1.25 0 1 0 2.5 0a1.25 1.25 0 1 0 -2.5 0M115.25 252.50a1.25 1.25 0 1 0 2.5 0a1.25 1.25 0 1 0 -2.5 0M115.25 254.50a1.25 1.25 0 1 0 2.5 0a1.25 1.25 0 1 0 -2.5 0M112.25 257.50a1.25 1.25 0 1 0 2.5 0a1.25 1.25 0 1 0 -2.5 0M109.25 240.50a1.25 1.25 0 1 0 2.5 0a1.25 1.25 0 1 0 -2.5 0M102.25 262.50a1.25 1.25 0 1 0 2.5 0a1.25 1.25 0 1 0 -2.5 0M109.25 261.50a1.25 1.25 0 1 0 2.5 0a1.25 1.25 0 1 0 -2.5 0M106.25 265.50a1.25 1.25 0 1 0 2.5 0a1.25 1.25 0 1 0 -2.5 0M109.25 268.50a1.25 1.25 0 1 0 2.5 0a1.25 1.25 0 1 0 -2.5 0M94.25 266.50a1.25 1.25 0 1 0 2.5 0a1.25 1.25 0 1 0 -2.5 0M104.25 271.50a1.25 1.25 0 1 0 2.5 0a1.25 1.25 0 1 0 -2.5 0M103.25 273.50a1.25 1.25 0 1 0 2.5 0a1.25 1.25 0 1 0 -2.5 0M99.25 275.50a1.25 1.25 0 1 0 2.5 0a1.25 1.25 0 1 0 -2.5 0M109.25 276.50a1.25 1.25 0 1 0 2.5 0a1.25 1.25 0 1 0 -2.5 0M95.25 282.50a1.25 1.25 0 1 0 2.5 0a1.25 1.25 0 1 0 -2.5 0M114.25 279.50a1.25 1.25 0 1 0 2.5 0a1.25 1.25 0 1 0 -2.5 0M111.25 287.50a1.25 1.25 0 1 0 2.5 0a1.25 1.25 0 1 0 -2.5 0M114.25 291.50a1.25 1.25 0 1 0 2.5 0a1.25 1.25 0 1 0 -2.5 0M114.25 258.50a1.25 1.25 0 1 0 2.5 0a1.25 1.25 0 1 0 -2.5 0M115.25 260.50a1.25 1.25 0 1 0 2.5 0a1.25 1.25 0 1 0 -2.5 0M116.25 263.50a1.25 1.25 0 1 0 2.5 0a1.25 1.25 0 1 0 -2.5 0M121.25 216.50a1.25 1.25 0 1 0 2.5 0a1.25 1.25 0 1 0 -2.5 0M117.25 218.50a1.25 1.25 0 1 0 2.5 0a1.25 1.25 0 1 0 -2.5 0M119.25 223.50a1.25 1.25 0 1 0 2.5 0a1.25 1.25 0 1 0 -2.5 0M118.25 225.50a1.25 1.25 0 1 0 2.5 0a1.25 1.25 0 1 0 -2.5 0M120.25 226.50a1.25 1.25 0 1 0 2.5 0a1.25 1.25 0 1 0 -2.5 0M116.25 226.50a1.25 1.25 0 1 0 2.5 0a1.25 1.25 0 1 0 -2.5 0M117.25 229.50a1.25 1.25 0 1 0 2.5 0a1.25 1.25 0 1 0 -2.5 0M119.25 229.50a1.25 1.25 0 1 0 2.5 0a1.25 1.25 0 1 0 -2.5 0M113.25 229.50a1.25 1.25 0 1 0 2.5 0a1.25 1.25 0 1 0 -2.5 0M118.25 233.50a1.25 1.25 0 1 0 2.5 0a1.25 1.25 0 1 0 -2.5 0M120.25 233.50a1.25 1.25 0 1 0 2.5 0a1.25 1.25 0 1 0 -2.5 0M123.25 230.50a1.25 1.25 0 1 0 2.5 0a1.25 1.25 0 1 0 -2.5 0M124.25 231.50a1.25 1.25 0 1 0 2.5 0a1.25 1.25 0 1 0 -2.5 0M123.25 229.50a1.25 1.25 0 1 0 2.5 0a1.25 1.25 0 1 0 -2.5 0M126.25 228.50a1.25 1.25 0 1 0 2.5 0a1.25 1.25 0 1 0 -2.5 0M128.25 228.50a1.25 1.25 0 1 0 2.5 0a1.25 1.25 0 1 0 -2.5 0M130.25 228.50a1.25 1.25 0 1 0 2.5 0a1.25 1.25 0 1 0 -2.5 0M127.25 230.50a1.25 1.25 0 1 0 2.5 0a1.25 1.25 0 1 0 -2.5 0M128.25 231.50a1.25 1.25 0 1 0 2.5 0a1.25 1.25 0 1 0 -2.5 0M130.25 232.50a1.25 1.25 0 1 0 2.5 0a1.25 1.25 0 1 0 -2.5 0M130.25 233.50a1.25 1.25 0 1 0 2.5 0a1.25 1.25 0 1 0 -2.5 0M137.25 229.50a1.25 1.25 0 1 0 2.5 0a1.25 1.25 0 1 0 -2.5 0M140.25 232.50a1.25 1.25 0 1 0 2.5 0a1.25 1.25 0 1 0 -2.5 0M137.25 234.50a1.25 1.25 0 1 0 2.5 0a1.25 1.25 0 1 0 -2.5 0M133.25 235.50a1.25 1.25 0 1 0 2.5 0a1.25 1.25 0 1 0 -2.5 0M134.25 236.50a1.25 1.25 0 1 0 2.5 0a1.25 1.25 0 1 0 -2.5 0M136.25 237.50a1.25 1.25 0 1 0 2.5 0a1.25 1.25 0 1 0 -2.5 0M139.25 236.50a1.25 1.25 0 1 0 2.5 0a1.25 1.25 0 1 0 -2.5 0M139.25 238.50a1.25 1.25 0 1 0 2.5 0a1.25 1.25 0 1 0 -2.5 0M124.25 236.50a1.25 1.25 0 1 0 2.5 0a1.25 1.25 0 1 0 -2.5 0M125.25 236.50a1.25 1.25 0 1 0 2.5 0a1.25 1.25 0 1 0 -2.5 0M117.25 236.50a1.25 1.25 0 1 0 2.5 0a1.25 1.25 0 1 0 -2.5 0M118.25 239.50a1.25 1.25 0 1 0 2.5 0a1.25 1.25 0 1 0 -2.5 0M120.25 239.50a1.25 1.25 0 1 0 2.5 0a1.25 1.25 0 1 0 -2.5 0M121.25 240.50a1.25 1.25 0 1 0 2.5 0a1.25 1.25 0 1 0 -2.5 0M115.25 239.50a1.25 1.25 0 1 0 2.5 0a1.25 1.25 0 1 0 -2.5 0M112.25 239.50a1.25 1.25 0 1 0 2.5 0a1.25 1.25 0 1 0 -2.5 0M125.25 241.50a1.25 1.25 0 1 0 2.5 0a1.25 1.25 0 1 0 -2.5 0M127.25 241.50a1.25 1.25 0 1 0 2.5 0a1.25 1.25 0 1 0 -2.5 0M132.25 239.50a1.25 1.25 0 1 0 2.5 0a1.25 1.25 0 1 0 -2.5 0M138.25 239.50a1.25 1.25 0 1 0 2.5 0a1.25 1.25 0 1 0 -2.5 0M141.25 241.50a1.25 1.25 0 1 0 2.5 0a1.25 1.25 0 1 0 -2.5 0M145.25 241.50a1.25 1.25 0 1 0 2.5 0a1.25 1.25 0 1 0 -2.5 0M112.25 232.50a1.25 1.25 0 1 0 2.5 0a1.25 1.25 0 1 0 -2.5 0M134.25 238.50a1.25 1.25 0 1 0 2.5 0a1.25 1.25 0 1 0 -2.5 0M136.25 239.50a1.25 1.25 0 1 0 2.5 0a1.25 1.25 0 1 0 -2.5 0M140.25 242.50a1.25 1.25 0 1 0 2.5 0a1.25 1.25 0 1 0 -2.5 0M147.25 241.50a1.25 1.25 0 1 0 2.5 0a1.25 1.25 0 1 0 -2.5 0M149.25 242.50a1.25 1.25 0 1 0 2.5 0a1.25 1.25 0 1 0 -2.5 0M152.25 236.50a1.25 1.25 0 1 0 2.5 0a1.25 1.25 0 1 0 -2.5 0M154.25 237.50a1.25 1.25 0 1 0 2.5 0a1.25 1.25 0 1 0 -2.5 0M152.25 245.50a1.25 1.25 0 1 0 2.5 0a1.25 1.25 0 1 0 -2.5 0M129.25 242.50a1.25 1.25 0 1 0 2.5 0a1.25 1.25 0 1 0 -2.5 0M129.25 245.50a1.25 1.25 0 1 0 2.5 0a1.25 1.25 0 1 0 -2.5 0M132.25 245.50a1.25 1.25 0 1 0 2.5 0a1.25 1.25 0 1 0 -2.5 0M136.25 245.50a1.25 1.25 0 1 0 2.5 0a1.25 1.25 0 1 0 -2.5 0M138.25 245.50a1.25 1.25 0 1 0 2.5 0a1.25 1.25 0 1 0 -2.5 0M143.25 245.50a1.25 1.25 0 1 0 2.5 0a1.25 1.25 0 1 0 -2.5 0M146.25 245.50a1.25 1.25 0 1 0 2.5 0a1.25 1.25 0 1 0 -2.5 0M147.25 247.50a1.25 1.25 0 1 0 2.5 0a1.25 1.25 0 1 0 -2.5 0M139.25 247.50a1.25 1.25 0 1 0 2.5 0a1.25 1.25 0 1 0 -2.5 0M142.25 247.50a1.25 1.25 0 1 0 2.5 0a1.25 1.25 0 1 0 -2.5 0M158.25 246.50a1.25 1.25 0 1 0 2.5 0a1.25 1.25 0 1 0 -2.5 0M111.25 245.50a1.25 1.25 0 1 0 2.5 0a1.25 1.25 0 1 0 -2.5 0M119.25 245.50a1.25 1.25 0 1 0 2.5 0a1.25 1.25 0 1 0 -2.5 0M122.25 243.50a1.25 1.25 0 1 0 2.5 0a1.25 1.25 0 1 0 -2.5 0M123.25 245.50a1.25 1.25 0 1 0 2.5 0a1.25 1.25 0 1 0 -2.5 0M124.25 247.50a1.25 1.25 0 1 0 2.5 0a1.25 1.25 0 1 0 -2.5 0M126.25 244.50a1.25 1.25 0 1 0 2.5 0a1.25 1.25 0 1 0 -2.5 0M128.25 243.50a1.25 1.25 0 1 0 2.5 0a1.25 1.25 0 1 0 -2.5 0M130.25 244.50a1.25 1.25 0 1 0 2.5 0a1.25 1.25 0 1 0 -2.5 0M132.25 242.50a1.25 1.25 0 1 0 2.5 0a1.25 1.25 0 1 0 -2.5 0M134.25 244.50a1.25 1.25 0 1 0 2.5 0a1.25 1.25 0 1 0 -2.5 0M116.25 249.50a1.25 1.25 0 1 0 2.5 0a1.25 1.25 0 1 0 -2.5 0M120.25 250.50a1.25 1.25 0 1 0 2.5 0a1.25 1.25 0 1 0 -2.5 0M121.25 251.50a1.25 1.25 0 1 0 2.5 0a1.25 1.25 0 1 0 -2.5 0M117.25 254.50a1.25 1.25 0 1 0 2.5 0a1.25 1.25 0 1 0 -2.5 0M119.25 255.50a1.25 1.25 0 1 0 2.5 0a1.25 1.25 0 1 0 -2.5 0M121.25 254.50a1.25 1.25 0 1 0 2.5 0a1.25 1.25 0 1 0 -2.5 0M122.25 254.50a1.25 1.25 0 1 0 2.5 0a1.25 1.25 0 1 0 -2.5 0M125.25 255.50a1.25 1.25 0 1 0 2.5 0a1.25 1.25 0 1 0 -2.5 0M126.25 257.50a1.25 1.25 0 1 0 2.5 0a1.25 1.25 0 1 0 -2.5 0M127.25 258.50a1.25 1.25 0 1 0 2.5 0a1.25 1.25 0 1 0 -2.5 0M120.25 258.50a1.25 1.25 0 1 0 2.5 0a1.25 1.25 0 1 0 -2.5 0M120.25 260.50a1.25 1.25 0 1 0 2.5 0a1.25 1.25 0 1 0 -2.5 0M116.25 260.50a1.25 1.25 0 1 0 2.5 0a1.25 1.25 0 1 0 -2.5 0M129.25 256.50a1.25 1.25 0 1 0 2.5 0a1.25 1.25 0 1 0 -2.5 0M131.25 259.50a1.25 1.25 0 1 0 2.5 0a1.25 1.25 0 1 0 -2.5 0M132.25 260.50a1.25 1.25 0 1 0 2.5 0a1.25 1.25 0 1 0 -2.5 0M130.25 262.50a1.25 1.25 0 1 0 2.5 0a1.25 1.25 0 1 0 -2.5 0M134.25 252.50a1.25 1.25 0 1 0 2.5 0a1.25 1.25 0 1 0 -2.5 0M135.25 251.50a1.25 1.25 0 1 0 2.5 0a1.25 1.25 0 1 0 -2.5 0M133.25 253.50a1.25 1.25 0 1 0 2.5 0a1.25 1.25 0 1 0 -2.5 0M136.25 257.50a1.25 1.25 0 1 0 2.5 0a1.25 1.25 0 1 0 -2.5 0M136.25 260.50a1.25 1.25 0 1 0 2.5 0a1.25 1.25 0 1 0 -2.5 0M134.25 261.50a1.25 1.25 0 1 0 2.5 0a1.25 1.25 0 1 0 -2.5 0M127.25 250.50a1.25 1.25 0 1 0 2.5 0a1.25 1.25 0 1 0 -2.5 0M128.25 252.50a1.25 1.25 0 1 0 2.5 0a1.25 1.25 0 1 0 -2.5 0M121.25 263.50a1.25 1.25 0 1 0 2.5 0a1.25 1.25 0 1 0 -2.5 0M125.25 263.50a1.25 1.25 0 1 0 2.5 0a1.25 1.25 0 1 0 -2.5 0M140.25 243.50a1.25 1.25 0 1 0 2.5 0a1.25 1.25 0 1 0 -2.5 0M145.25 244.50a1.25 1.25 0 1 0 2.5 0a1.25 1.25 0 1 0 -2.5 0M147.25 244.50a1.25 1.25 0 1 0 2.5 0a1.25 1.25 0 1 0 -2.5 0M144.25 247.50a1.25 1.25 0 1 0 2.5 0a1.25 1.25 0 1 0 -2.5 0M151.25 248.50a1.25 1.25 0 1 0 2.5 0a1.25 1.25 0 1 0 -2.5 0M153.25 249.50a1.25 1.25 0 1 0 2.5 0a1.25 1.25 0 1 0 -2.5 0M139.25 250.50a1.25 1.25 0 1 0 2.5 0a1.25 1.25 0 1 0 -2.5 0M142.25 251.50a1.25 1.25 0 1 0 2.5 0a1.25 1.25 0 1 0 -2.5 0M145.25 252.50a1.25 1.25 0 1 0 2.5 0a1.25 1.25 0 1 0 -2.5 0M139.25 254.50a1.25 1.25 0 1 0 2.5 0a1.25 1.25 0 1 0 -2.5 0M142.25 256.50a1.25 1.25 0 1 0 2.5 0a1.25 1.25 0 1 0 -2.5 0M144.25 256.50a1.25 1.25 0 1 0 2.5 0a1.25 1.25 0 1 0 -2.5 0M140.25 260.50a1.25 1.25 0 1 0 2.5 0a1.25 1.25 0 1 0 -2.5 0M143.25 260.50a1.25 1.25 0 1 0 2.5 0a1.25 1.25 0 1 0 -2.5 0M146.25 260.50a1.25 1.25 0 1 0 2.5 0a1.25 1.25 0 1 0 -2.5 0M144.25 262.50a1.25 1.25 0 1 0 2.5 0a1.25 1.25 0 1 0 -2.5 0M170.25 262.50a1.25 1.25 0 1 0 2.5 0a1.25 1.25 0 1 0 -2.5 0M172.25 262.50a1.25 1.25 0 1 0 2.5 0a1.25 1.25 0 1 0 -2.5 0M171.25 264.50a1.25 1.25 0 1 0 2.5 0a1.25 1.25 0 1 0 -2.5 0M169.25 267.50a1.25 1.25 0 1 0 2.5 0a1.25 1.25 0 1 0 -2.5 0M125.25 265.50a1.25 1.25 0 1 0 2.5 0a1.25 1.25 0 1 0 -2.5 0M127.25 265.50a1.25 1.25 0 1 0 2.5 0a1.25 1.25 0 1 0 -2.5 0M132.25 262.50a1.25 1.25 0 1 0 2.5 0a1.25 1.25 0 1 0 -2.5 0M131.25 267.50a1.25 1.25 0 1 0 2.5 0a1.25 1.25 0 1 0 -2.5 0M133.25 268.50a1.25 1.25 0 1 0 2.5 0a1.25 1.25 0 1 0 -2.5 0M138.25 269.50a1.25 1.25 0 1 0 2.5 0a1.25 1.25 0 1 0 -2.5 0M126.25 271.50a1.25 1.25 0 1 0 2.5 0a1.25 1.25 0 1 0 -2.5 0M130.25 274.50a1.25 1.25 0 1 0 2.5 0a1.25 1.25 0 1 0 -2.5 0M129.25 276.50a1.25 1.25 0 1 0 2.5 0a1.25 1.25 0 1 0 -2.5 0M138.25 280.50a1.25 1.25 0 1 0 2.5 0a1.25 1.25 0 1 0 -2.5 0M125.25 289.50a1.25 1.25 0 1 0 2.5 0a1.25 1.25 0 1 0 -2.5 0M130.25 288.50a1.25 1.25 0 1 0 2.5 0a1.25 1.25 0 1 0 -2.5 0M136.25 288.50a1.25 1.25 0 1 0 2.5 0a1.25 1.25 0 1 0 -2.5 0M145.25 270.50a1.25 1.25 0 1 0 2.5 0a1.25 1.25 0 1 0 -2.5 0M157.25 272.50a1.25 1.25 0 1 0 2.5 0a1.25 1.25 0 1 0 -2.5 0M165.25 272.50a1.25 1.25 0 1 0 2.5 0a1.25 1.25 0 1 0 -2.5 0M153.25 273.50a1.25 1.25 0 1 0 2.5 0a1.25 1.25 0 1 0 -2.5 0M141.25 275.50a1.25 1.25 0 1 0 2.5 0a1.25 1.25 0 1 0 -2.5 0M142.25 276.50a1.25 1.25 0 1 0 2.5 0a1.25 1.25 0 1 0 -2.5 0M153.25 277.50a1.25 1.25 0 1 0 2.5 0a1.25 1.25 0 1 0 -2.5 0M156.25 276.50a1.25 1.25 0 1 0 2.5 0a1.25 1.25 0 1 0 -2.5 0M147.25 283.50a1.25 1.25 0 1 0 2.5 0a1.25 1.25 0 1 0 -2.5 0M155.25 282.50a1.25 1.25 0 1 0 2.5 0a1.25 1.25 0 1 0 -2.5 0M141.25 288.50a1.25 1.25 0 1 0 2.5 0a1.25 1.25 0 1 0 -2.5 0M169.25 273.50a1.25 1.25 0 1 0 2.5 0a1.25 1.25 0 1 0 -2.5 0M174.25 271.50a1.25 1.25 0 1 0 2.5 0a1.25 1.25 0 1 0 -2.5 0M174.25 274.50a1.25 1.25 0 1 0 2.5 0a1.25 1.25 0 1 0 -2.5 0M176.25 275.50a1.25 1.25 0 1 0 2.5 0a1.25 1.25 0 1 0 -2.5 0M173.25 275.50a1.25 1.25 0 1 0 2.5 0a1.25 1.25 0 1 0 -2.5 0M182.25 271.50a1.25 1.25 0 1 0 2.5 0a1.25 1.25 0 1 0 -2.5 0M183.25 273.50a1.25 1.25 0 1 0 2.5 0a1.25 1.25 0 1 0 -2.5 0M182.25 273.50a1.25 1.25 0 1 0 2.5 0a1.25 1.25 0 1 0 -2.5 0M180.25 276.50a1.25 1.25 0 1 0 2.5 0a1.25 1.25 0 1 0 -2.5 0M180.25 277.50a1.25 1.25 0 1 0 2.5 0a1.25 1.25 0 1 0 -2.5 0M193.25 275.50a1.25 1.25 0 1 0 2.5 0a1.25 1.25 0 1 0 -2.5 0M185.25 282.50a1.25 1.25 0 1 0 2.5 0a1.25 1.25 0 1 0 -2.5 0M149.25 251.50a1.25 1.25 0 1 0 2.5 0a1.25 1.25 0 1 0 -2.5 0M152.25 250.50a1.25 1.25 0 1 0 2.5 0a1.25 1.25 0 1 0 -2.5 0M154.25 251.50a1.25 1.25 0 1 0 2.5 0a1.25 1.25 0 1 0 -2.5 0M157.25 250.50a1.25 1.25 0 1 0 2.5 0a1.25 1.25 0 1 0 -2.5 0M159.25 250.50a1.25 1.25 0 1 0 2.5 0a1.25 1.25 0 1 0 -2.5 0M148.25 253.50a1.25 1.25 0 1 0 2.5 0a1.25 1.25 0 1 0 -2.5 0M150.25 253.50a1.25 1.25 0 1 0 2.5 0a1.25 1.25 0 1 0 -2.5 0M153.25 252.50a1.25 1.25 0 1 0 2.5 0a1.25 1.25 0 1 0 -2.5 0M155.25 253.50a1.25 1.25 0 1 0 2.5 0a1.25 1.25 0 1 0 -2.5 0M158.25 252.50a1.25 1.25 0 1 0 2.5 0a1.25 1.25 0 1 0 -2.5 0M161.25 253.50a1.25 1.25 0 1 0 2.5 0a1.25 1.25 0 1 0 -2.5 0M162.25 255.50a1.25 1.25 0 1 0 2.5 0a1.25 1.25 0 1 0 -2.5 0M166.25 256.50a1.25 1.25 0 1 0 2.5 0a1.25 1.25 0 1 0 -2.5 0M165.25 258.50a1.25 1.25 0 1 0 2.5 0a1.25 1.25 0 1 0 -2.5 0M148.25 256.50a1.25 1.25 0 1 0 2.5 0a1.25 1.25 0 1 0 -2.5 0M151.25 255.50a1.25 1.25 0 1 0 2.5 0a1.25 1.25 0 1 0 -2.5 0M155.25 255.50a1.25 1.25 0 1 0 2.5 0a1.25 1.25 0 1 0 -2.5 0M158.25 255.50a1.25 1.25 0 1 0 2.5 0a1.25 1.25 0 1 0 -2.5 0M154.25 258.50a1.25 1.25 0 1 0 2.5 0a1.25 1.25 0 1 0 -2.5 0M156.25 257.50a1.25 1.25 0 1 0 2.5 0a1.25 1.25 0 1 0 -2.5 0M159.25 257.50a1.25 1.25 0 1 0 2.5 0a1.25 1.25 0 1 0 -2.5 0M161.25 258.50a1.25 1.25 0 1 0 2.5 0a1.25 1.25 0 1 0 -2.5 0M149.25 258.50a1.25 1.25 0 1 0 2.5 0a1.25 1.25 0 1 0 -2.5 0M152.25 260.50a1.25 1.25 0 1 0 2.5 0a1.25 1.25 0 1 0 -2.5 0M155.25 260.50a1.25 1.25 0 1 0 2.5 0a1.25 1.25 0 1 0 -2.5 0M157.25 259.50a1.25 1.25 0 1 0 2.5 0a1.25 1.25 0 1 0 -2.5 0M160.25 260.50a1.25 1.25 0 1 0 2.5 0a1.25 1.25 0 1 0 -2.5 0M163.25 260.50a1.25 1.25 0 1 0 2.5 0a1.25 1.25 0 1 0 -2.5 0M153.25 262.50a1.25 1.25 0 1 0 2.5 0a1.25 1.25 0 1 0 -2.5 0M156.25 262.50a1.25 1.25 0 1 0 2.5 0a1.25 1.25 0 1 0 -2.5 0M158.25 261.50a1.25 1.25 0 1 0 2.5 0a1.25 1.25 0 1 0 -2.5 0M161.25 262.50a1.25 1.25 0 1 0 2.5 0a1.25 1.25 0 1 0 -2.5 0M164.25 261.50a1.25 1.25 0 1 0 2.5 0a1.25 1.25 0 1 0 -2.5 0M150.25 263.50a1.25 1.25 0 1 0 2.5 0a1.25 1.25 0 1 0 -2.5 0M153.25 264.50a1.25 1.25 0 1 0 2.5 0a1.25 1.25 0 1 0 -2.5 0M155.25 264.50a1.25 1.25 0 1 0 2.5 0a1.25 1.25 0 1 0 -2.5 0M158.25 264.50a1.25 1.25 0 1 0 2.5 0a1.25 1.25 0 1 0 -2.5 0M161.25 264.50a1.25 1.25 0 1 0 2.5 0a1.25 1.25 0 1 0 -2.5 0M164.25 264.50a1.25 1.25 0 1 0 2.5 0a1.25 1.25 0 1 0 -2.5 0M152.25 266.50a1.25 1.25 0 1 0 2.5 0a1.25 1.25 0 1 0 -2.5 0M155.25 266.50a1.25 1.25 0 1 0 2.5 0a1.25 1.25 0 1 0 -2.5 0M157.25 266.50a1.25 1.25 0 1 0 2.5 0a1.25 1.25 0 1 0 -2.5 0M160.25 266.50a1.25 1.25 0 1 0 2.5 0a1.25 1.25 0 1 0 -2.5 0M163.25 266.50a1.25 1.25 0 1 0 2.5 0a1.25 1.25 0 1 0 -2.5 0M166.25 265.50a1.25 1.25 0 1 0 2.5 0a1.25 1.25 0 1 0 -2.5 0M151.25 268.50a1.25 1.25 0 1 0 2.5 0a1.25 1.25 0 1 0 -2.5 0M153.25 268.50a1.25 1.25 0 1 0 2.5 0a1.25 1.25 0 1 0 -2.5 0M156.25 268.50a1.25 1.25 0 1 0 2.5 0a1.25 1.25 0 1 0 -2.5 0M159.25 268.50a1.25 1.25 0 1 0 2.5 0a1.25 1.25 0 1 0 -2.5 0M162.25 268.50a1.25 1.25 0 1 0 2.5 0a1.25 1.25 0 1 0 -2.5 0M147.25 270.50a1.25 1.25 0 1 0 2.5 0a1.25 1.25 0 1 0 -2.5 0M151.25 270.50a1.25 1.25 0 1 0 2.5 0a1.25 1.25 0 1 0 -2.5 0M159.25 270.50a1.25 1.25 0 1 0 2.5 0a1.25 1.25 0 1 0 -2.5 0M167.25 270.50a1.25 1.25 0 1 0 2.5 0a1.25 1.25 0 1 0 -2.5 0M165.25 264.50a1.25 1.25 0 1 0 2.5 0a1.25 1.25 0 1 0 -2.5 0M167.25 265.50a1.25 1.25 0 1 0 2.5 0a1.25 1.25 0 1 0 -2.5 0M152.25 257.50a1.25 1.25 0 1 0 2.5 0a1.25 1.25 0 1 0 -2.5 0M154.25 261.50a1.25 1.25 0 1 0 2.5 0a1.25 1.25 0 1 0 -2.5 0M156.25 259.50a1.25 1.25 0 1 0 2.5 0a1.25 1.25 0 1 0 -2.5 0M158.25 263.50a1.25 1.25 0 1 0 2.5 0a1.25 1.25 0 1 0 -2.5 0M160.25 265.50a1.25 1.25 0 1 0 2.5 0a1.25 1.25 0 1 0 -2.5 0M154.25 265.50a1.25 1.25 0 1 0 2.5 0a1.25 1.25 0 1 0 -2.5 0M152.25 262.50a1.25 1.25 0 1 0 2.5 0a1.25 1.25 0 1 0 -2.5 0M157.25 267.50a1.25 1.25 0 1 0 2.5 0a1.25 1.25 0 1 0 -2.5 0M159.25 259.50a1.25 1.25 0 1 0 2.5 0a1.25 1.25 0 1 0 -2.5 0M162.25 263.50a1.25 1.25 0 1 0 2.5 0a1.25 1.25 0 1 0 -2.5 0M155.25 256.50a1.25 1.25 0 1 0 2.5 0a1.25 1.25 0 1 0 -2.5 0M153.25 259.50a1.25 1.25 0 1 0 2.5 0a1.25 1.25 0 1 0 -2.5 0M112.25 232.50a1.25 1.25 0 1 0 2.5 0a1.25 1.25 0 1 0 -2.5 0M113.25 258.50a1.25 1.25 0 1 0 2.5 0a1.25 1.25 0 1 0 -2.5 0M158.25 245.50a1.25 1.25 0 1 0 2.5 0a1.25 1.25 0 1 0 -2.5 0M152.25 249.50a1.25 1.25 0 1 0 2.5 0a1.25 1.25 0 1 0 -2.5 0M106.25 236.50a1.25 1.25 0 1 0 2.5 0a1.25 1.25 0 1 0 -2.5 0M108.25 241.50a1.25 1.25 0 1 0 2.5 0a1.25 1.25 0 1 0 -2.5 0M150.25 268.50a1.25 1.25 0 1 0 2.5 0a1.25 1.25 0 1 0 -2.5 0M121.25 262.50a1.25 1.25 0 1 0 2.5 0a1.25 1.25 0 1 0 -2.5 0M101.25 252.50a1.25 1.25 0 1 0 2.5 0a1.25 1.25 0 1 0 -2.5 0M132.25 245.50a1.25 1.25 0 1 0 2.5 0a1.25 1.25 0 1 0 -2.5 0M142.25 257.50a1.25 1.25 0 1 0 2.5 0a1.25 1.25 0 1 0 -2.5 0M101.25 245.50a1.25 1.25 0 1 0 2.5 0a1.25 1.25 0 1 0 -2.5 0M135.25 251.50a1.25 1.25 0 1 0 2.5 0a1.25 1.25 0 1 0 -2.5 0M128.25 228.50a1.25 1.25 0 1 0 2.5 0a1.25 1.25 0 1 0 -2.5 0M113.25 233.50a1.25 1.25 0 1 0 2.5 0a1.25 1.25 0 1 0 -2.5 0M113.25 245.50a1.25 1.25 0 1 0 2.5 0a1.25 1.25 0 1 0 -2.5 0M135.25 244.50a1.25 1.25 0 1 0 2.5 0a1.25 1.25 0 1 0 -2.5 0M127.25 244.50a1.25 1.25 0 1 0 2.5 0a1.25 1.25 0 1 0 -2.5 0M105.25 244.50a1.25 1.25 0 1 0 2.5 0a1.25 1.25 0 1 0 -2.5 0M140.25 231.50a1.25 1.25 0 1 0 2.5 0a1.25 1.25 0 1 0 -2.5 0M110.25 250.50a1.25 1.25 0 1 0 2.5 0a1.25 1.25 0 1 0 -2.5 0M147.25 244.50a1.25 1.25 0 1 0 2.5 0a1.25 1.25 0 1 0 -2.5 0M127.25 243.50a1.25 1.25 0 1 0 2.5 0a1.25 1.25 0 1 0 -2.5 0M103.25 247.50a1.25 1.25 0 1 0 2.5 0a1.25 1.25 0 1 0 -2.5 0M154.25 249.50a1.25 1.25 0 1 0 2.5 0a1.25 1.25 0 1 0 -2.5 0M111.25 258.50a1.25 1.25 0 1 0 2.5 0a1.25 1.25 0 1 0 -2.5 0M127.25 231.50a1.25 1.25 0 1 0 2.5 0a1.25 1.25 0 1 0 -2.5 0M132.25 267.50a1.25 1.25 0 1 0 2.5 0a1.25 1.25 0 1 0 -2.5 0M130.25 268.50a1.25 1.25 0 1 0 2.5 0a1.25 1.25 0 1 0 -2.5 0M153.25 260.50a1.25 1.25 0 1 0 2.5 0a1.25 1.25 0 1 0 -2.5 0M166.25 266.50a1.25 1.25 0 1 0 2.5 0a1.25 1.25 0 1 0 -2.5 0M144.25 252.50a1.25 1.25 0 1 0 2.5 0a1.25 1.25 0 1 0 -2.5 0M164.25 265.50a1.25 1.25 0 1 0 2.5 0a1.25 1.25 0 1 0 -2.5 0M162.25 263.50a1.25 1.25 0 1 0 2.5 0a1.25 1.25 0 1 0 -2.5 0M156.25 266.50a1.25 1.25 0 1 0 2.5 0a1.25 1.25 0 1 0 -2.5 0M126.25 231.50a1.25 1.25 0 1 0 2.5 0a1.25 1.25 0 1 0 -2.5 0M106.25 234.50a1.25 1.25 0 1 0 2.5 0a1.25 1.25 0 1 0 -2.5 0M143.25 246.50a1.25 1.25 0 1 0 2.5 0a1.25 1.25 0 1 0 -2.5 0M108.25 261.50a1.25 1.25 0 1 0 2.5 0a1.25 1.25 0 1 0 -2.5 0M115.25 238.50a1.25 1.25 0 1 0 2.5 0a1.25 1.25 0 1 0 -2.5 0M146.25 270.50a1.25 1.25 0 1 0 2.5 0a1.25 1.25 0 1 0 -2.5 0M108.25 268.50a1.25 1.25 0 1 0 2.5 0a1.25 1.25 0 1 0 -2.5 0M126.25 263.50a1.25 1.25 0 1 0 2.5 0a1.25 1.25 0 1 0 -2.5 0M115.25 254.50a1.25 1.25 0 1 0 2.5 0a1.25 1.25 0 1 0 -2.5 0M143.25 250.50a1.25 1.25 0 1 0 2.5 0a1.25 1.25 0 1 0 -2.5 0" fill="none" stroke="#000000" stroke-width="0.6"/>
<path d="M243.25 245.50a1.25 1.25 0 1 0 2.5 0a1.25 1.25 0 1 0 -2.5 0M238.25 247.50a1.25 1.25 0 1 0 2.5 0a1.25 1.25 0 1 0 -2.5 0M237.25 253.50a1.25 1.25 0 1 0 2.5 0a1.25 1.25 0 1 0 -2.5 0M239.25 255.50a1.25 1.25 0 1 0 2.5 0a1.25 1.25 0 1 0 -2.5 0M243.25 256.50a1.25 1.25 0 1 0 2.5 0a1.25 1.25 0 1 0 -2.5 0M246.25 255.50a1.25 1.25 0 1 0 2.5 0a1.25 1.25 0 1 0 -2.5 0M236.25 258.50a1.25 1.25 0 1 0 2.5 0a1.25 1.25 0 1 0 -2.5 0M239.25 258.50a1.25 1.25 0 1 0 2.5 0a1.25 1.25 0 1 0 -2.5 0M233.25 262.50a1.25 1.25 0 1 0 2.5 0a1.25 1.25 0 1 0 -2.5 0M243.25 263.50a1.25 1.25 0 1 0 2.5 0a1.25 1.25 0 1 0 -2.5 0M247.25 262.50a1.25 1.25 0 1 0 2.5 0a1.25 1.25 0 1 0 -2.5 0M250.25 261.50a1.25 1.25 0 1 0 2.5 0a1.25 1.25 0 1 0 -2.5 0M252.25 263.50a1.25 1.25 0 1 0 2.5 0a1.25 1.25 0 1 0 -2.5 0M257.25 262.50a1.25 1.25 0 1 0 2.5 0a1.25 1.25 0 1 0 -2.5 0M240.25 266.50a1.25 1.25 0 1 0 2.5 0a1.25 1.25 0 1 0 -2.5 0M247.25 266.50a1.25 1.25 0 1 0 2.5 0a1.25 1.25 0 1 0 -2.5 0M249.25 267.50a1.25 1.25 0 1 0 2.5 0a1.25 1.25 0 1 0 -2.5 0M250.25 265.50a1.25 1.25 0 1 0 2.5 0a1.25 1.25 0 1 0 -2.5 0M253.25 268.50a1.25 1.25 0 1 0 2.5 0a1.25 1.25 0 1 0 -2.5 0M226.25 272.50a1.25 1.25 0 1 0 2.5 0a1.25 1.25 0 1 0 -2.5 0M249.25 271.50a1.25 1.25 0 1 0 2.5 0a1.25 1.25 0 1 0 -2.5 0M241.25 275.50a1.25 1.25 0 1 0 2.5 0a1.25 1.25 0 1 0 -2.5 0M248.25 276.50a1.25 1.25 0 1 0 2.5 0a1.25 1.25 0 1 0 -2.5 0M251.25 279.50a1.25 1.25 0 1 0 2.5 0a1.25 1.25 0 1 0 -2.5 0M264.25 259.50a1.25 1.25 0 1 0 2.5 0a1.25 1.25 0 1 0 -2.5 0M262.25 262.50a1.25 1.25 0 1 0 2.5 0a1.25 1.25 0 1 0 -2.5 0M266.25 263.50a1.25 1.25 0 1 0 2.5 0a1.25 1.25 0 1 0 -2.5 0M274.25 261.50a1.25 1.25 0 1 0 2.5 0a1.25 1.25 0 1 0 -2.5 0M279.25 265.50a1.25 1.25 0 1 0 2.5 0a1.25 1.25 0 1 0 -2.5 0M280.25 265.50a1.25 1.25 0 1 0 2.5 0a1.25 1.25 0 1 0 -2.5 0M285.25 265.50a1.25 1.25 0 1 0 2.5 0a1.25 1.25 0 1 0 -2.5 0M264.25 266.50a1.25 1.25 0 1 0 2.5 0a1.25 1.25 0 1 0 -2.5 0M269.25 269.50a1.25 1.25 0 1 0 2.5 0a1.25 1.25 0 1 0 -2.5 0M274.25 267.50a1.25 1.25 0 1 0 2.5 0a1.25 1.25 0 1 0 -2.5 0M271.25 270.50a1.25 1.25 0 1 0 2.5 0a1.25 1.25 0 1 0 -2.5 0M259.25 272.50a1.25 1.25 0 1 0 2.5 0a1.25 1.25 0 1 0 -2.5 0M259.25 274.50a1.25 1.25 0 1 0 2.5 0a1.25 1.25 0 1 0 -2.5 0M261.25 275.50a1.25 1.25 0 1 0 2.5 0a1.25 1.25 0 1 0 -2.5 0M259.25 276.50a1.25 1.25 0 1 0 2.5 0a1.25 1.25 0 1 0 -2.5 0M264.25 275.50a1.25 1.25 0 1 0 2.5 0a1.25 1.25 0 1 0 -2.5 0M271.25 272.50a1.25 1.25 0 1 0 2.5 0a1.25 1.25 0 1 0 -2.5 0M272.25 275.50a1.25 1.25 0 1 0 2.5 0a1.25 1.25 0 1 0 -2.5 0M275.25 272.50a1.25 1.25 0 1 0 2.5 0a1.25 1.25 0 1 0 -2.5 0M275.25 276.50a1.25 1.25 0 1 0 2.5 0a1.25 1.25 0 1 0 -2.5 0M272.25 277.50a1.25 1.25 0 1 0 2.5 0a1.25 1.25 0 1 0 -2.5 0M270.25 279.50a1.25 1.25 0 1 0 2.5 0a1.25 1.25 0 1 0 -2.5 0M278.25 271.50a1.25 1.25 0 1 0 2.5 0a1.25 1.25 0 1 0 -2.5 0M280.25 273.50a1.25 1.25 0 1 0 2.5 0a1.25 1.25 0 1 0 -2.5 0M280.25 276.50a1.25 1.25 0 1 0 2.5 0a1.25 1.25 0 1 0 -2.5 0M282.25 277.50a1.25 1.25 0 1 0 2.5 0a1.25 1.25 0 1 0 -2.5 0M283.25 274.50a1.25 1.25 0 1 0 2.5 0a1.25 1.25 0 1 0 -2.5 0M287.25 276.50a1.25 1.25 0 1 0 2.5 0a1.25 1.25 0 1 0 -2.5 0M289.25 276.50a1.25 1.25 0 1 0 2.5 0a1.25 1.25 0 1 0 -2.5 0M291.25 276.50a1.25 1.25 0 1 0 2.5 0a1.25 1.25 0 1 0 -2.5 0M285.25 289.50a1.25 1.25 0 1 0 2.5 0a1.25 1.25 0 1 0 -2.5 0M295.25 270.50a1.25 1.25 0 1 0 2.5 0a1.25 1.25 0 1 0 -2.5 0M288.25 273.50a1.25 1.25 0 1 0 2.5 0a1.25 1.25 0 1 0 -2.5 0M297.25 274.50a1.25 1.25 0 1 0 2.5 0a1.25 1.25 0 1 0 -2.5 0M298.25 277.50a1.25 1.25 0 1 0 2.5 0a1.25 1.25 0 1 0 -2.5 0M302.25 275.50a1.25 1.25 0 1 0 2.5 0a1.25 1.25 0 1 0 -2.5 0M302.25 278.50a1.25 1.25 0 1 0 2.5 0a1.25 1.25 0 1 0 -2.5 0M305.25 275.50a1.25 1.25 0 1 0 2.5 0a1.25 1.25 0 1 0 -2.5 0M312.25 277.50a1.25 1.25 0 1 0 2.5 0a1.25 1.25 0 1 0 -2.5 0M313.25 271.50a1.25 1.25 0 1 0 2.5 0a1.25 1.25 0 1 0 -2.5 0M315.25 272.50a1.25 1.25 0 1 0 2.5 0a1.25 1.25 0 1 0 -2.5 0M317.25 284.50a1.25 1.25 0 1 0 2.5 0a1.25 1.25 0 1 0 -2.5 0M317.25 293.50a1.25 1.25 0 1 0 2.5 0a1.25 1.25 0 1 0 -2.5 0M321.25 274.50a1.25 1.25 0 1 0 2.5 0a1.25 1.25 0 1 0 -2.5 0M323.25 269.50a1.25 1.25 0 1 0 2.5 0a1.25 1.25 0 1 0 -2.5 0M324.25 270.50a1.25 1.25 0 1 0 2.5 0a1.25 1.25 0 1 0 -2.5 0M330.25 267.50a1.25 1.25 0 1 0 2.5 0a1.25 1.25 0 1 0 -2.5 0M331.25 269.50a1.25 1.25 0 1 0 2.5 0a1.25 1.25 0 1 0 -2.5 0M323.25 274.50a1.25 1.25 0 1 0 2.5 0a1.25 1.25 0 1 0 -2.5 0M325.25 277.50a1.25 1.25 0 1 0 2.5 0a1.25 1.25 0 1 0 -2.5 0M322.25 279.50a1.25 1.25 0 1 0 2.5 0a1.25 1.25 0 1 0 -2.5 0M322.25 280.50a1.25 1.25 0 1 0 2.5 0a1.25 1.25 0 1 0 -2.5 0M331.25 279.50a1.25 1.25 0 1 0 2.5 0a1.25 1.25 0 1 0 -2.5 0M331.25 279.50a1.25 1.25 0 1 0 2.5 0a1.25 1.25 0 1 0 -2.5 0M337.25 272.50a1.25 1.25 0 1 0 2.5 0a1.25 1.25 0 1 0 -2.5 0M337.25 277.50a1.25 1.25 0 1 0 2.5 0a1.25 1.25 0 1 0 -2.5 0M338.25 285.50a1.25 1.25 0 1 0 2.5 0a1.25 1.25 0 1 0 -2.5 0M353.25 261.50a1.25 1.25 0 1 0 2.5 0a1.25 1.25 0 1 0 -2.5 0M368.25 277.50a1.25 1.25 0 1 0 2.5 0a1.25 1.25 0 1 0 -2.5 0M373.25 283.50a1.25 1.25 0 1 0 2.5 0a1.25 1.25 0 1 0 -2.5 0M270.25 277.50a1.25 1.25 0 1 0 2.5 0a1.25 1.25 0 1 0 -2.5 0M273.25 273.50a1.25 1.25 0 1 0 2.5 0a1.25 1.25 0 1 0 -2.5 0M281.25 278.50a1.25 1.25 0 1 0 2.5 0a1.25 1.25 0 1 0 -2.5 0M273.25 275.50a1.25 1.25 0 1 0 2.5 0a1.25 1.25 0 1 0 -2.5 0M270.25 272.50a1.25 1.25 0 1 0 2.5 0a1.25 1.25 0 1 0 -2.5 0M276.25 271.50a1.25 1.25 0 1 0 2.5 0a1.25 1.25 0 1 0 -2.5 0M268.25 274.50a1.25 1.25 0 1 0 2.5 0a1.25 1.25 0 1 0 -2.5 0M277.25 274.50a1.25 1.25 0 1 0 2.5 0a1.25 1.25 0 1 0 -2.5 0" fill="none" stroke="#000000" stroke-width="0.6"/>
<path d="M35.9 115.3L71.4 68.5L156.6 120.4L193.5 120.6" fill="none" stroke="#606060" stroke-width="0.6"/>
<path d="M238.9 115.4L381.7 71.7" fill="none" stroke="#606060" stroke-width="0.6"/>
<path d="M32.5 201.8L194.5 279.5" fill="none" stroke="#606060" stroke-width="0.6"/>
<path d="M228 264.2L374.2 283.4" fill="none" stroke="#606060" stroke-width="0.6"/>
<text x="201" y="15.8" class="ti">a) all sites</text>
<text x="387" y="16.5" class="ti">b) the arctic</text>
<text x="197.4" y="175.6" class="ti">c) boreal regions</text>
<text x="391" y="172.6" class="ti">d) northern temperate</text>
<text x="261.6" y="16.1" class="eq" style="stroke-width:0.22px" textLength="66.3" lengthAdjust="spacingAndGlyphs">dT<tspan font-size="4.6" dy="1.3">SA</tspan><tspan dy="-1.3"> = 0.427 T</tspan><tspan font-size="4.6" dy="1.3">A</tspan><tspan dy="-1.3"> + 9.470</tspan></text>
<text x="261.6" y="24.2" class="eq" style="stroke-width:0.22px">R = 0.449, N = 62</text>
<text x="162.7" y="188.7" class="eq" style="stroke-width:0.08px" textLength="68.9" lengthAdjust="spacingAndGlyphs">dT<tspan font-size="4.6" dy="1.3">SA</tspan><tspan dy="-1.3"> = -0.360 T</tspan><tspan font-size="4.6" dy="1.3">A</tspan><tspan dy="-1.3"> + 4.133</tspan></text>
<text x="162.7" y="197.4" class="eq" style="stroke-width:0.08px">R = -0.674, N = 424</text>
<text x="353.1" y="188.0" class="eq" style="stroke-width:0.08px" textLength="68.3" lengthAdjust="spacingAndGlyphs">dT<tspan font-size="4.6" dy="1.3">SA</tspan><tspan dy="-1.3"> = -0.156 T</tspan><tspan font-size="4.6" dy="1.3">A</tspan><tspan dy="-1.3"> + 3.270</tspan></text>
<text x="353.1" y="196.6" class="eq" style="stroke-width:0.08px">R = 0.255, N = 102</text>
<text transform="translate(9.6 74.9) rotate(-90) scale(0.915 1)" text-anchor="middle" font-size="8.5" font-weight="bold" stroke="#1a1a1a" stroke-width="0.3">Mean dT<tspan font-size="5.27" dy="1.5">SA</tspan><tspan dy="-1.5"> (°C)</tspan></text>
<text transform="translate(6.9 209.3) rotate(-90) scale(0.93 1)" text-anchor="middle" font-size="8.5" font-weight="bold" stroke="#1a1a1a" stroke-width="0.3">Mean dT<tspan font-size="5.27" dy="1.5">SA</tspan><tspan dy="-1.5"> (°C)</tspan></text>
<text transform="translate(112.2 321.3) scale(0.94 1)" text-anchor="middle" font-size="8" font-weight="bold" stroke="#1a1a1a" stroke-width="0.3">Mean T<tspan font-size="4.96" dy="1.5">A</tspan><tspan dy="-1.5"> (°C)</tspan></text>
<text transform="translate(302.5 320.8) scale(0.94 1)" text-anchor="middle" font-size="8" font-weight="bold" stroke="#1a1a1a" stroke-width="0.3">Mean T<tspan font-size="4.96" dy="1.5">A</tspan><tspan dy="-1.5"> (°C)</tspan></text>
</svg></body></html>
